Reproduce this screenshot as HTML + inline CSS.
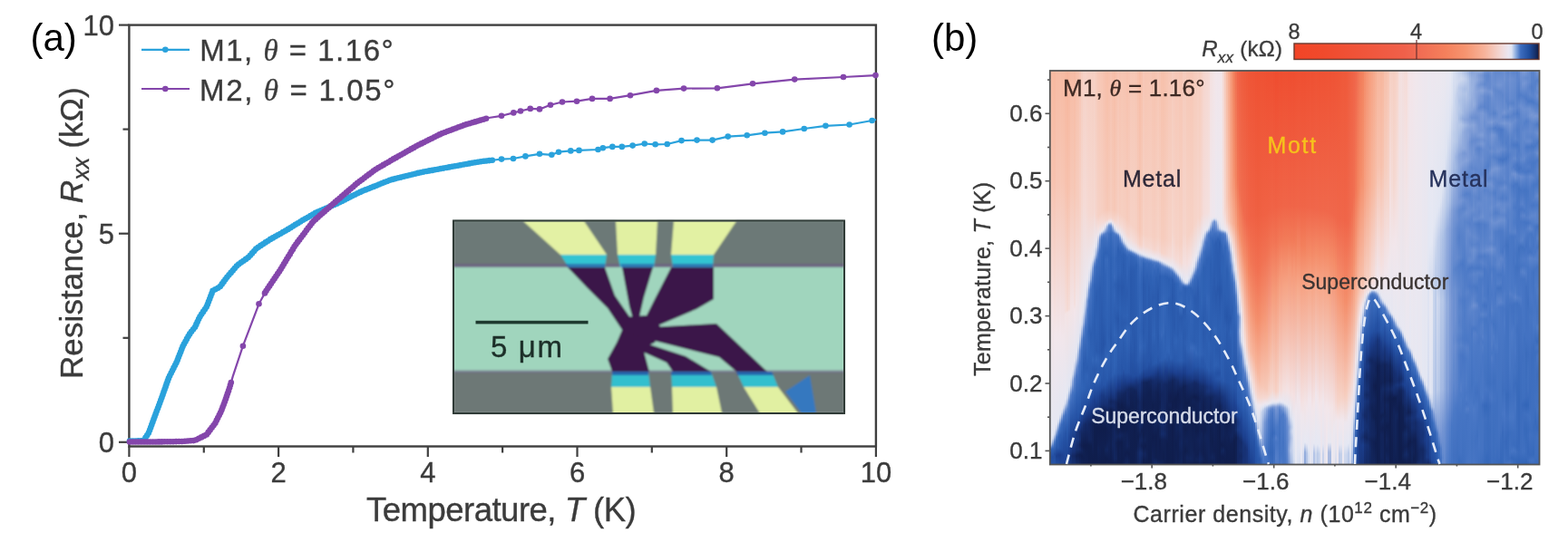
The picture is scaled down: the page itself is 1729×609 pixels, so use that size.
<!DOCTYPE html>
<html><head><meta charset="utf-8"><title>Figure</title>
<style>
html,body{margin:0;padding:0;background:#fff;}
#fig{position:relative;width:1729px;height:609px;overflow:hidden;background:#fff;}
#hm{position:absolute;left:1158px;top:78px;width:540px;height:435px;overflow:hidden;}
#hm i{position:absolute;top:0;width:2px;height:435px;display:block;}
svg{position:absolute;left:0;top:0;}
text{font-family:'Liberation Sans', Arial, Helvetica, sans-serif;}
</style></head><body>
<div id="fig">
<div id="hm">
<i style="left:0px;background:linear-gradient(#f7baa3 0,#f7c4b2 118px,#f1e6eb 296px,#e5e8f3 407px,#d5ddf0 410px,#a4b9e2 413px,#4c78c5 416px,#2e60b2 418px,#234ea1 426px,#2451a4 434px)"></i>
<i style="left:2px;background:linear-gradient(#f7b9a0 0,#f7c2af 121px,#f3e3e5 269px,#e5e8f3 402px,#d0daee 406px,#92acdc 410px,#4f7bc6 414px,#3062b5 417px,#234ea1 426px,#2654a7 434px)"></i>
<i style="left:4px;background:linear-gradient(#f7b8a0 0,#f7c2af 122px,#f4e1e1 268px,#f2e6eb 292px,#e5e7f3 396px,#cdd7ed 401px,#94addd 405px,#527dc7 409px,#3d6ebe 412px,#224c9e 423px,#2654a7 434px)"></i>
<i style="left:6px;background:linear-gradient(#f7bba4 0,#f7c6b5 123px,#f2e6eb 291px,#e5e7f3 390px,#c8d3ec 395px,#4c78c4 404px,#3365b7 408px,#2756a9 417px,#1c4090 425px,#224ea0 434px)"></i>
<i style="left:8px;background:linear-gradient(#f7bba4 0,#f7c6b5 123px,#f1e6eb 294px,#e5e7f2 384px,#cfd9ee 388px,#4f7bc6 398px,#3062b5 404px,#2958ab 416px,#1b3e8d 424px,#214b9d 434px)"></i>
<i style="left:10px;background:linear-gradient(#f7bca5 0,#f7c7b6 125px,#f2e6eb 290px,#e4e7f2 379px,#c9d4ec 383px,#90abdc 387px,#5d85cb 390px,#4070bf 394px,#2b5caf 403px,#2552a5 417px,#1b3e8c 424px,#1f4798 434px)"></i>
<i style="left:12px;background:linear-gradient(#f7bba4 0,#f7c6b4 123px,#f1e6eb 295px,#e6e7f2 373px,#d1daee 377px,#557fc9 386px,#396abc 390px,#2655a8 409px,#234fa1 418px,#1d4191 424px,#1f4697 434px)"></i>
<i style="left:14px;background:linear-gradient(#f7bba3 0,#f7c5b3 122px,#f1e6eb 295px,#e5e7f3 368px,#ccd7ed 372px,#8aa6da 377px,#507cc7 381px,#3567b9 388px,#2552a5 407px,#214a9c 419px,#1e4394 425px,#1e4495 434px)"></i>
<i style="left:16px;background:linear-gradient(#f7b8a0 0,#f7c2af 126px,#f4dedb 265px,#f3e4e6 269px,#e6e8f3 362px,#cfd8ee 367px,#9cb3e0 371px,#5c84cb 376px,#4271c1 380px,#2654a7 400px,#20499a 420px,#1e4495 434px)"></i>
<i style="left:18px;background:linear-gradient(#f7b69d 0,#f7c1ad 134px,#f5dad4 264px,#f4e3e4 267px,#e4e7f2 355px,#cbd6ed 361px,#5580c9 373px,#3f6fbf 380px,#2c5eb1 393px,#2451a3 409px,#1f4798 421px,#1e4394 434px)"></i>
<i style="left:20px;background:linear-gradient(#f7b8a0 0,#f7c2af 129px,#f4ddd9 263px,#f3e4e6 266px,#e3e6f2 348px,#ccd7ed 353px,#5982ca 365px,#3869bb 377px,#214a9b 404px,#1d4292 420px,#1b3d89 425px,#1b3c89 434px)"></i>
<i style="left:22px;background:linear-gradient(#f7bca5 0,#f7c7b6 128px,#f3e4e6 263px,#e3e6f2 338px,#c0ceea 347px,#7898d4 354px,#517cc7 358px,#3c6cbd 366px,#2451a4 388px,#1b3d8a 411px,#193881 420px,#163071 425px,#173377 434px)"></i>
<i style="left:24px;background:linear-gradient(#f7bca6 0,#f6c8b7 130px,#f3e4e7 261px,#e4e6f2 329px,#ced8ed 335px,#94addd 342px,#7a9ad5 347px,#4674c3 355px,#2b5bae 378px,#193881 411px,#173377 420px,#142964 425px,#163071 434px)"></i>
<i style="left:26px;background:linear-gradient(#f7bba4 0,#f7c6b4 129px,#f4e0df 258px,#f3e6ea 264px,#e4e6f2 320px,#b9c9e8 329px,#5f86cc 340px,#3a6bbc 358px,#2552a5 385px,#18367e 412px,#173174 420px,#132760 425px,#163071 434px)"></i>
<i style="left:28px;background:linear-gradient(#f7bfaa 0,#f6cbbc 137px,#f2e5e8 256px,#e3e6f2 310px,#ccd6ed 317px,#a6bae2 322px,#6b8fd0 329px,#4674c3 337px,#2f61b4 361px,#2450a3 384px,#1b3e8d 394px,#19377e 400px,#18357a 408px,#162f70 414px,#152d6b 419px,#102154 425px,#142a66 434px)"></i>
<i style="left:30px;background:linear-gradient(#f7c2ad 0,#f6cdc0 146px,#f3e3e5 247px,#e3e6f2 299px,#cdd7ed 305px,#517dc8 326px,#3c6cbd 342px,#2c5db0 365px,#2553a6 382px,#1b3c88 394px,#173377 399px,#18357b 407px,#142b68 413px,#152e6d 418px,#102052 424px,#132862 434px)"></i>
<i style="left:32px;background:linear-gradient(#f7c6b5 0,#f6d2c7 154px,#ebe8f0 274px,#dee2f1 289px,#bbcae8 297px,#809fd7 305px,#6289cd 309px,#4372c2 322px,#3668ba 344px,#3164b6 352px,#2655a8 376px,#1a3b87 392px,#152d6d 398px,#152e6e 407px,#12255c 413px,#142a66 418px,#0f1e4e 424px,#12245b 434px)"></i>
<i style="left:34px;background:linear-gradient(#f6cdbf 0,#f5d7cf 146px,#e9e8f1 268px,#d7def0 280px,#90aadc 291px,#6088cc 297px,#3e6ebe 309px,#3062b5 333px,#3164b7 350px,#224d9f 376px,#1b3d8a 386px,#173275 392px,#132861 400px,#112256 409px,#101f51 414px,#12245b 419px,#0f1d4c 425px,#102154 432px,#102052 434px)"></i>
<i style="left:36px;background:linear-gradient(#f6d1c6 0,#f5dad5 144px,#e9e8f1 253px,#d8dff0 266px,#a0b6e1 278px,#668ccf 285px,#3e6fbf 295px,#2b5caf 324px,#2d5fb2 338px,#2f62b5 350px,#214b9d 374px,#19377e 386px,#152c6a 391px,#0f1d4c 414px,#102153 420px,#0f1e4f 427px,#102051 432px,#0f1e4e 434px)"></i>
<i style="left:38px;background:linear-gradient(#f6d2c7 0,#f5dbd6 150px,#eae8f1 238px,#dfe3f1 249px,#b5c6e7 260px,#668bcf 274px,#4373c2 283px,#2d5eb1 318px,#2c5db0 329px,#2f62b5 337px,#2d5fb2 351px,#2655a8 362px,#204899 373px,#173276 386px,#142964 390px,#12265f 397px,#0f1d4c 414px,#101f4f 421px,#101f50 427px,#101f50 432px,#0f1d4c 434px)"></i>
<i style="left:40px;background:linear-gradient(#f6d0c4 0,#f5d9d3 155px,#ebe8f0 228px,#dce1f0 238px,#a5bae2 249px,#7899d4 254px,#6c8fd0 259px,#507cc7 264px,#3467b9 290px,#3668ba 300px,#3265b7 313px,#2b5caf 328px,#3163b6 337px,#2858ab 360px,#1c3f8e 376px,#152c6b 387px,#132964 392px,#112155 408px,#0f1d4d 413px,#0f1e4e 421px,#101f50 431px,#0f1d4c 434px)"></i>
<i style="left:42px;background:linear-gradient(#f6cfc3 0,#f5d8d1 158px,#ebe8f0 218px,#d3dbef 231px,#7395d3 242px,#547fc8 250px,#4372c1 254px,#2e60b3 287px,#3164b6 301px,#2e60b3 320px,#2d5eb1 329px,#2d5fb2 346px,#2756a9 359px,#1b3d8a 375px,#13265f 390px,#132760 396px,#12255d 402px,#12255c 407px,#0f1e4d 413px,#0f1d4c 434px)"></i>
<i style="left:44px;background:linear-gradient(#f6d0c3 0,#f5d8d1 158px,#eae8f1 211px,#d4dcef 218px,#91abdc 230px,#5e86cc 235px,#4372c1 241px,#3264b7 281px,#2c5db0 290px,#2f62b5 314px,#2e60b3 321px,#2c5db0 331px,#2755a8 357px,#1f4698 365px,#1b3c89 373px,#112359 389px,#112359 397px,#12245a 402px,#12245b 407px,#0f1e4d 414px,#0f1d4c 434px)"></i>
<i style="left:46px;background:linear-gradient(#f6cfc2 0,#f5d7d0 158px,#eae8f1 204px,#dde1f0 209px,#afc2e5 214px,#88a4d9 218px,#527dc7 228px,#3b6cbd 237px,#3063b6 271px,#2d5eb1 286px,#2e61b4 314px,#3366b8 319px,#2a5bae 329px,#2a5bae 343px,#2450a3 357px,#1e4394 364px,#1b3c89 372px,#132760 382px,#102154 391px,#112255 408px,#0f1d4c 428px,#0f1d4c 434px)"></i>
<i style="left:48px;background:linear-gradient(#f6d0c3 0,#f5d8d1 155px,#ebe8f0 194px,#d6ddef 203px,#b4c5e6 207px,#6188cd 213px,#4675c3 217px,#3163b6 237px,#2c5eb1 271px,#2b5caf 287px,#2c5eb1 314px,#3062b5 320px,#2958ab 331px,#2a5aad 342px,#224c9e 356px,#1b3e8c 364px,#1a3a85 371px,#112257 381px,#0f1e4d 393px,#0f1d4c 434px)"></i>
<i style="left:50px;background:linear-gradient(#f6ccbd 0,#f6d4cb 160px,#ebe7ef 186px,#d6ddef 194px,#8ea9db 203px,#4c79c5 209px,#396abc 216px,#2c5db0 249px,#2e60b3 281px,#2a5aad 309px,#3366b8 319px,#2a5aad 329px,#2d5eb1 341px,#224c9e 355px,#1b3e8d 366px,#18357b 373px,#12245a 380px,#0f1d4d 394px,#0f1d4c 434px)"></i>
<i style="left:52px;background:linear-gradient(#f6c8b7 0,#f6d1c5 160px,#f4e0df 174px,#e9e6ef 181px,#84a2d8 195px,#507bc6 202px,#396bbc 210px,#2d5fb2 243px,#2d5fb2 261px,#2d5fb2 272px,#2c5db0 294px,#2a5bae 310px,#3163b6 320px,#2b5caf 330px,#2f61b4 340px,#214b9d 354px,#19377e 371px,#12245a 381px,#0f1d4c 394px,#101f50 412px,#102154 417px,#0f1d4c 434px)"></i>
<i style="left:54px;background:linear-gradient(#f7c7b5 0,#f6d0c4 158px,#f4ddd9 170px,#ebe7ef 178px,#d0d9ed 180px,#8da8db 183px,#688dcf 186px,#3c6dbd 199px,#2c5db0 241px,#2c5db0 261px,#2959ac 296px,#2958ab 310px,#2d5fb2 320px,#2a5aad 332px,#2d5eb1 340px,#224d9f 352px,#1b3e8c 359px,#18357b 369px,#112257 382px,#0f1d4c 395px,#101f50 413px,#102052 418px,#0f1d4c 434px)"></i>
<i style="left:56px;background:linear-gradient(#f7c6b4 0,#f6cfc2 156px,#f5dad5 167px,#ebe7ef 176px,#e5e6f1 177px,#d4dcef 178px,#7294d3 181px,#4d7ac6 183px,#3c6dbd 187px,#3265b7 206px,#2b5bae 262px,#2756a9 298px,#2655a8 309px,#2b5caf 319px,#2a5bae 335px,#2450a3 349px,#1a3a84 358px,#173275 368px,#12265e 374px,#0f1d4c 394px,#101f51 414px,#0f1d4c 434px)"></i>
<i style="left:58px;background:linear-gradient(#f7c3b0 0,#f6cdbf 155px,#f5d9d3 166px,#eae7f0 174px,#d7deef 176px,#a7bbe3 178px,#678ccf 180px,#517dc8 181px,#3d6ebe 184px,#2f62b5 202px,#2e60b3 225px,#2c5eb1 270px,#2654a7 302px,#2c5db0 318px,#2755a8 346px,#193881 359px,#163072 368px,#112359 374px,#112155 386px,#0f1d4c 395px,#102051 414px,#101f4f 420px,#0f1d4c 434px)"></i>
<i style="left:60px;background:linear-gradient(#f7c0ac 0,#f6cabb 154px,#f5d7cf 165px,#eee6ec 170px,#d2d9ed 173px,#8da8db 177px,#507cc8 180px,#3e6ebe 185px,#2f61b4 201px,#3668ba 209px,#3466b8 218px,#3062b5 225px,#2e60b3 269px,#2959ac 301px,#2f61b4 312px,#2f61b4 318px,#2655a8 346px,#18357a 363px,#162f70 369px,#12245a 374px,#12255c 384px,#0f1d4c 394px,#101f50 412px,#112459 418px,#0f1d4c 427px,#0f1d4c 434px)"></i>
<i style="left:62px;background:linear-gradient(#f7bfa9 0,#f6c8b7 153px,#f6d5cc 164px,#ece5ec 168px,#c9d3eb 170px,#98b0de 172px,#4c79c6 179px,#3a6bbc 190px,#2f62b5 201px,#386abb 209px,#3567b9 218px,#3466b8 240px,#2f62b5 268px,#2e60b3 290px,#2e60b3 310px,#3567b9 317px,#2d5eb1 324px,#2a5bae 339px,#224c9e 348px,#193881 360px,#173275 366px,#152d6d 370px,#112358 376px,#12265d 384px,#101e4f 396px,#101f51 408px,#12255c 418px,#0f1d4c 428px,#101f50 434px)"></i>
<i style="left:64px;background:linear-gradient(#f7c0ac 0,#f6caba 153px,#f6d6cd 163px,#f0e5e9 166px,#e7e5ef 167px,#ced7ec 168px,#84a1d8 170px,#6b8fd0 171px,#5b84cb 173px,#547fc9 176px,#3f6fbf 180px,#3668ba 190px,#3062b5 203px,#3264b7 212px,#3164b6 240px,#2e60b3 272px,#2c5db0 292px,#3063b5 313px,#2d5eb1 325px,#2755a8 340px,#19377e 359px,#142b69 365px,#142b69 370px,#101f50 376px,#112357 384px,#101f50 400px,#112256 412px,#112154 421px,#0f1d4d 431px,#0f1e4e 434px)"></i>
<i style="left:66px;background:linear-gradient(#f7c3b0 0,#f6cdbf 154px,#f6d5cc 162px,#efe6ec 166px,#e5e5f0 167px,#a7bbe2 169px,#6c90d1 171px,#5881ca 173px,#386abb 180px,#3366b8 191px,#2e61b4 206px,#2e60b3 240px,#2c5db0 276px,#2858ab 294px,#2b5caf 319px,#2756a9 338px,#1a3c88 352px,#152e6e 361px,#12265e 365px,#132862 370px,#0f1d4d 375px,#102052 412px,#0f1d4c 434px)"></i>
<i style="left:68px;background:linear-gradient(#f7c0ab 0,#f6caba 154px,#f6d3c9 163px,#ede5ec 168px,#d2d9ec 170px,#96afde 173px,#4373c2 179px,#396abb 191px,#3265b7 207px,#3366b8 223px,#3164b7 230px,#3062b5 239px,#3063b6 247px,#2d5fb2 275px,#2d5fb2 292px,#2c5db0 300px,#2d5fb2 319px,#2c5db0 336px,#1a3a84 356px,#173276 361px,#132863 365px,#142a67 370px,#101f50 376px,#112256 385px,#112358 401px,#12255c 413px,#102053 429px,#0f1d4c 434px)"></i>
<i style="left:70px;background:linear-gradient(#f7bea8 0,#f6c8b7 154px,#f6d5cb 165px,#ece6ed 171px,#d1d9ed 174px,#99b1df 177px,#6088cd 179px,#4d7ac6 180px,#4271c1 183px,#3567b9 208px,#3567b9 222px,#3869bb 228px,#2e60b3 236px,#3365b8 247px,#2d5eb1 266px,#2c5eb1 274px,#3164b7 291px,#2d5fb2 299px,#3063b6 307px,#2f62b5 325px,#2d5fb2 333px,#234fa1 342px,#183479 361px,#142964 365px,#142965 371px,#112256 377px,#112256 387px,#13265f 401px,#12255c 412px,#12265e 428px,#0f1d4c 434px)"></i>
<i style="left:72px;background:linear-gradient(#f7c1ad 0,#f6cbbc 155px,#f5d7cf 166px,#ece7ef 174px,#dfe3f1 176px,#d0d9ee 177px,#b5c6e7 178px,#698ed0 180px,#4e7bc7 181px,#4070c0 183px,#3062b5 207px,#3365b8 222px,#3264b6 228px,#2c5db0 236px,#2e60b3 262px,#2959ac 273px,#2f61b4 292px,#2f62b5 301px,#2d5fb2 325px,#2959ac 335px,#1e4394 348px,#173377 356px,#152e6e 361px,#12255c 366px,#102052 395px,#12265d 404px,#102052 411px,#112257 420px,#12245a 428px,#0f1d4c 434px)"></i>
<i style="left:74px;background:linear-gradient(#f7c5b3 0,#f6cfc2 156px,#f5dbd7 168px,#e7e6f1 177px,#dae0f0 178px,#c0ceea 179px,#7496d3 181px,#5982ca 182px,#4271c0 184px,#2d5fb2 197px,#2f61b4 222px,#2959ac 237px,#2d5eb1 262px,#2756a9 274px,#2c5db0 293px,#2b5caf 308px,#2857aa 333px,#1b3e8d 346px,#19377f 351px,#142b68 356px,#12255c 362px,#101e4f 368px,#101f4f 398px,#12245a 403px,#0f1d4c 410px,#0f1e4e 429px,#0f1d4c 434px)"></i>
<i style="left:76px;background:linear-gradient(#f7c3b0 0,#f6cdbf 157px,#f5d8d1 169px,#ede7ee 178px,#d8deef 180px,#7d9dd6 184px,#5680c9 187px,#3c6cbd 191px,#2e60b3 200px,#3062b5 222px,#2a5aad 237px,#2e61b4 263px,#2b5caf 279px,#2e5fb2 293px,#2c5db0 309px,#2756a9 334px,#1b3e8d 346px,#19377f 351px,#142b67 356px,#112358 363px,#0f1e4e 371px,#101e4f 384px,#101f51 397px,#12265f 403px,#0f1d4c 410px,#101f50 418px,#0f1e4e 430px,#0f1d4c 434px)"></i>
<i style="left:78px;background:linear-gradient(#f7c5b2 0,#f6cfc1 159px,#f5dbd6 172px,#eae7f0 181px,#ccd6ed 184px,#88a4d9 188px,#4d7ac6 191px,#3567b9 195px,#2e60b3 204px,#2d5fb2 221px,#2958ab 240px,#2d5fb2 266px,#2a5aad 279px,#2d5fb2 292px,#2d5fb2 301px,#2553a6 334px,#173275 351px,#132760 357px,#0f1d4c 369px,#0f1d4c 386px,#0f1e4e 397px,#12245b 402px,#0f1d4c 410px,#0f1e4d 418px,#0f1d4d 434px)"></i>
<i style="left:80px;background:linear-gradient(#f7c4b1 0,#f6cec0 160px,#f5d9d4 174px,#ebe7ef 184px,#cfd9ee 188px,#a9bde3 190px,#5d85cb 193px,#3c6dbd 196px,#2e60b3 202px,#2b5caf 214px,#2c5db0 228px,#2959ac 238px,#2e60b3 271px,#2a5aad 278px,#2e61b4 291px,#2b5caf 299px,#2857aa 329px,#1d4292 341px,#12255d 357px,#0f1d4c 373px,#0f1e4e 384px,#0f1e4e 397px,#112357 402px,#102052 411px,#0f1e4e 429px,#112155 434px)"></i>
<i style="left:82px;background:linear-gradient(#f7c3b0 0,#f6cdbf 162px,#f5d9d3 177px,#e9e8f1 188px,#d0d9ee 191px,#5983ca 196px,#4070bf 198px,#2f61b4 204px,#2c5db0 229px,#2b5bae 248px,#2e60b3 271px,#2b5bae 278px,#3063b6 290px,#2d5fb2 300px,#2655a8 333px,#1b3e8b 343px,#12265e 355px,#102154 367px,#0f1e4e 374px,#0f1e4e 385px,#101f4f 397px,#112255 402px,#102154 415px,#0f1d4d 423px,#12245a 434px)"></i>
<i style="left:84px;background:linear-gradient(#f7c1ad 0,#f6cbbc 164px,#f5d8d1 180px,#e8e8f1 191px,#dae0f1 193px,#b6c7e7 195px,#6087cc 198px,#4171c0 200px,#3164b7 206px,#3163b6 224px,#2b5bae 245px,#2f62b5 270px,#2c5eb1 278px,#3567b9 288px,#2d5fb2 309px,#2756a9 333px,#1c408f 343px,#142965 352px,#132760 361px,#12255c 367px,#101f50 374px,#101f51 385px,#0f1e4f 396px,#112256 402px,#12245a 414px,#0f1d4c 421px,#12265d 434px)"></i>
<i style="left:86px;background:linear-gradient(#f7c3b0 0,#f6cdc0 166px,#f5d9d3 182px,#e9e8f2 193px,#dee3f2 195px,#cfd8ee 196px,#b3c5e6 197px,#668ccf 199px,#4b78c5 200px,#3668ba 203px,#2d5fb2 223px,#2d5eb1 230px,#2d5eb1 260px,#2c5db0 279px,#3365b8 287px,#2654a7 333px,#1c3f8e 343px,#132862 351px,#12245b 360px,#12255c 367px,#0f1e4e 375px,#102052 405px,#112255 414px,#0f1d4c 423px,#112256 434px)"></i>
<i style="left:88px;background:linear-gradient(#f7c7b6 0,#f6d1c5 169px,#f4ddda 185px,#e8e8f2 195px,#e3e6f2 196px,#d3dcef 197px,#b5c6e7 198px,#5f87cc 200px,#4674c2 201px,#3264b7 204px,#2a5aad 222px,#2959ac 231px,#2858ab 279px,#2d5fb2 288px,#2553a6 319px,#234ea0 335px,#1b3c89 343px,#12255b 351px,#112154 359px,#101f51 369px,#0f1e4d 434px)"></i>
<i style="left:90px;background:linear-gradient(#f7c7b5 0,#f6d1c5 171px,#f4ddd9 187px,#e9e8f1 196px,#e4e6f2 197px,#d4dcef 198px,#b5c6e7 199px,#6188cd 201px,#4775c3 202px,#3365b8 205px,#2b5bae 222px,#2959ac 280px,#2a5aad 304px,#224d9e 337px,#1b3d8a 343px,#12265d 351px,#112256 357px,#101f50 370px,#0f1e4e 434px)"></i>
<i style="left:92px;background:linear-gradient(#f7c7b5 0,#f6d1c5 173px,#f5dbd7 188px,#eae8f1 197px,#e4e6f2 198px,#d4dcef 199px,#b5c6e7 200px,#6289cd 202px,#4876c4 203px,#3466b8 206px,#2b5caf 221px,#2a5aad 283px,#2553a6 324px,#224c9e 337px,#1a3b86 343px,#112358 353px,#102154 366px,#0f1d4c 387px,#101f4f 434px)"></i>
<i style="left:94px;background:linear-gradient(#f7c5b3 0,#f6d0c3 175px,#f5d9d3 189px,#ebe8f0 198px,#e5e6f2 199px,#d5dcef 200px,#b7c7e7 201px,#668bce 203px,#4b78c5 204px,#3a6bbc 206px,#2d5fb2 214px,#2a5bae 286px,#2857aa 319px,#224d9f 336px,#193780 343px,#12245a 354px,#102052 365px,#102052 371px,#0f1e4e 415px,#112154 422px,#102154 430px,#102154 434px)"></i>
<i style="left:96px;background:linear-gradient(#f7c1ac 0,#f6cbbd 176px,#f6d6cd 191px,#ece7ef 199px,#d7def0 201px,#bccbe9 202px,#7093d2 204px,#557fc9 205px,#4171c0 207px,#3466b8 215px,#2e60b3 263px,#2f61b4 288px,#2c5db0 319px,#234ea0 336px,#163173 347px,#132964 357px,#112358 365px,#12245b 371px,#0f1d4d 384px,#12245a 390px,#0f1e4e 404px,#112358 416px,#132862 422px,#12265d 432px,#12265e 434px)"></i>
<i style="left:98px;background:linear-gradient(#f7bda7 0,#f6c8b7 177px,#f6d2c7 192px,#ede7ef 200px,#d8dff0 202px,#9cb4e0 204px,#5f86cc 206px,#4776c4 208px,#3b6cbd 217px,#3466b9 236px,#3265b7 248px,#3567b9 264px,#3466b8 272px,#2f61b4 286px,#3567b9 306px,#2655a8 333px,#1b3e8b 341px,#173479 346px,#132760 366px,#132761 372px,#112359 379px,#101f51 383px,#142b68 389px,#102154 402px,#13265f 408px,#12245a 414px,#152e6d 422px,#132963 432px,#142964 434px)"></i>
<i style="left:100px;background:linear-gradient(#f7c1ac 0,#f6ccbd 179px,#f6d5cc 193px,#ebe8f0 201px,#d5ddef 203px,#93acdd 205px,#6d91d1 206px,#527ec8 207px,#4171c0 209px,#3365b7 223px,#2f61b4 236px,#3264b7 265px,#2e60b3 275px,#2d5fb2 287px,#3264b7 305px,#2553a5 331px,#1c3f8c 339px,#152e6e 344px,#12255b 362px,#12245a 367px,#112358 378px,#0f1e4e 383px,#132964 389px,#101f50 397px,#12265d 408px,#102052 414px,#142b68 422px,#122459 432px,#12245a 434px)"></i>
<i style="left:102px;background:linear-gradient(#f7c7b6 0,#f6d2c6 180px,#f5dcd8 194px,#eae8f1 202px,#e2e5f2 203px,#ced8ed 204px,#abbfe4 205px,#5881ca 207px,#4372c1 208px,#3265b7 212px,#2959ac 236px,#2b5bae 272px,#2959ac 289px,#2d5fb2 304px,#234ea0 329px,#1a3a84 338px,#12255c 344px,#0f1e4e 367px,#102051 386px,#102053 390px,#0f1e4d 402px,#102154 408px,#0f1d4d 416px,#12245a 423px,#0f1d4d 431px,#0f1d4d 434px)"></i>
<i style="left:104px;background:linear-gradient(#f7c5b3 0,#f6d0c4 181px,#f5d9d2 194px,#e9e8f1 203px,#dfe4f1 204px,#c8d4ec 205px,#5580c9 208px,#4473c2 209px,#3567b9 213px,#2b5bae 237px,#2b5bae 272px,#2c5db0 296px,#2d5fb2 304px,#2451a3 328px,#1b3e8d 337px,#12255b 344px,#102154 358px,#101f50 367px,#102051 385px,#101f50 390px,#101f51 401px,#112256 408px,#0f1d4c 414px,#12245b 423px,#0f1d4c 434px)"></i>
<i style="left:106px;background:linear-gradient(#f7c6b3 0,#f6d0c4 181px,#f5d8d0 194px,#ece8ef 203px,#d9e0f0 205px,#bdcce9 206px,#6b8fd0 208px,#4d7ac6 209px,#3b6cbd 211px,#2d5fb2 227px,#2c5db0 296px,#2654a7 326px,#1b3e8b 337px,#112459 344px,#102052 358px,#101f50 376px,#102051 403px,#101f50 417px,#102153 425px,#0f1d4c 434px)"></i>
<i style="left:108px;background:linear-gradient(#f7c6b4 0,#f6d1c5 182px,#f5d9d2 195px,#ebe8f0 204px,#e4e6f2 205px,#d0d9ee 206px,#5c85cb 209px,#4775c3 210px,#3668ba 213px,#2b5bae 240px,#2a5aad 270px,#2756a9 320px,#224c9e 328px,#1c3f8e 336px,#12255c 343px,#102051 355px,#0f1e4f 417px,#0f1d4c 434px)"></i>
<i style="left:110px;background:linear-gradient(#f7c6b5 0,#f6d1c5 182px,#f5d9d3 196px,#ede7ee 204px,#dee3f1 206px,#c3d0eb 207px,#7193d2 209px,#517dc8 210px,#3b6cbd 212px,#2e61b4 227px,#2c5db0 252px,#2958ab 310px,#2350a2 326px,#1c408f 335px,#132761 342px,#102052 353px,#101f51 360px,#0f1e4d 434px)"></i>
<i style="left:112px;background:linear-gradient(#f7c4b1 0,#f6cfc2 183px,#f5d7d0 197px,#ede7ef 205px,#e7e7f1 206px,#d7deef 207px,#b8c8e8 208px,#678ccf 210px,#4d7ac6 211px,#3b6cbd 214px,#3063b6 230px,#2b5bae 250px,#2f61b4 292px,#2b5caf 305px,#2756a9 324px,#1b3f8d 335px,#142b68 342px,#12245a 354px,#112256 360px,#0f1e4e 369px,#101e4f 382px,#112155 387px,#0f1d4d 405px,#112257 430px,#122459 434px)"></i>
<i style="left:114px;background:linear-gradient(#f7c3b0 0,#f6cec1 183px,#f6d5cc 197px,#ece8ef 206px,#e4e5f1 207px,#cdd7ed 208px,#5a83cb 211px,#4775c4 212px,#3365b8 221px,#2b5caf 250px,#3063b6 292px,#2b5caf 303px,#2959ac 323px,#1c3f8d 334px,#152c6b 342px,#12245a 354px,#112257 360px,#101f50 368px,#101f51 376px,#0f1e4e 381px,#12255b 386px,#0f1e4e 404px,#102053 427px,#142a65 434px)"></i>
<i style="left:116px;background:linear-gradient(#f7c5b2 0,#f6d0c3 184px,#f5d7d0 198px,#eee7ee 206px,#dee2f1 208px,#becde9 209px,#688dcf 211px,#4c79c6 212px,#3b6cbd 215px,#2d5fb2 229px,#2b5bae 250px,#2c5db0 296px,#295aad 322px,#1b3d8b 333px,#152e6e 340px,#112256 354px,#101f4f 369px,#101f4f 376px,#101f50 381px,#12265d 385px,#0f1d4d 404px,#101f4f 427px,#142b68 434px)"></i>
<i style="left:118px;background:linear-gradient(#f7c7b6 0,#f6d2c6 184px,#f5dad5 199px,#ede7ef 207px,#e6e6f1 208px,#d2daee 209px,#5881ca 212px,#4574c2 213px,#3265b7 219px,#2857aa 247px,#2b5caf 283px,#2959ac 297px,#2b5bae 313px,#2553a6 323px,#18367d 334px,#12255c 346px,#101f51 357px,#0f1e4d 380px,#12255c 385px,#101f50 396px,#101f50 429px,#132760 434px)"></i>
<i style="left:120px;background:linear-gradient(#f7c5b2 0,#f6d0c3 184px,#f5d7cf 199px,#ece7ef 208px,#e4e5f1 209px,#ccd6ed 210px,#5f86cc 213px,#4372c1 215px,#2c5db0 227px,#2d5eb1 248px,#3163b6 289px,#2c5eb1 302px,#2a5aad 320px,#1c4191 330px,#12265e 346px,#101f51 366px,#112155 375px,#102051 379px,#142a66 384px,#112357 394px,#12245a 401px,#0f1d4d 408px,#101f50 429px,#12255c 434px)"></i>
<i style="left:122px;background:linear-gradient(#f7c1ac 0,#f6ccbd 185px,#f6d4ca 201px,#ede7ef 209px,#e4e5f1 210px,#afc1e5 212px,#7092d2 214px,#4c79c6 216px,#2f62b5 227px,#3062b5 246px,#3265b7 253px,#3265b7 282px,#3768ba 292px,#2e60b3 299px,#2c5eb1 319px,#1a3c88 335px,#152d6b 343px,#12255d 357px,#13275f 372px,#12255c 379px,#162f70 384px,#132761 394px,#142b68 401px,#102154 407px,#101f50 418px,#101f50 428px,#12245b 434px)"></i>
<i style="left:124px;background:linear-gradient(#f7c1ac 0,#f6ccbd 185px,#f6d5cb 202px,#ece7ef 210px,#e4e5f1 211px,#b5c6e7 213px,#7495d3 215px,#4c79c6 217px,#2f62b5 227px,#3264b7 245px,#3567b9 252px,#3466b9 267px,#3466b8 276px,#3769ba 288px,#3265b7 293px,#2d5fb2 318px,#173377 341px,#142965 346px,#12265e 357px,#12265e 366px,#132861 380px,#152d6d 385px,#132761 395px,#142b69 401px,#112155 407px,#0f1e4d 427px,#112255 434px)"></i>
<i style="left:126px;background:linear-gradient(#f7c3af 0,#f6cdc0 186px,#f6d5cc 202px,#ece7ef 211px,#e4e6f1 212px,#b5c6e7 214px,#7193d2 216px,#5781ca 217px,#4473c2 219px,#2e60b3 227px,#3265b7 251px,#3164b7 267px,#3163b6 275px,#2e60b3 294px,#2f61b4 316px,#1b3d8b 332px,#183479 340px,#132862 346px,#12245a 378px,#132761 387px,#12255c 396px,#132862 401px,#102052 408px,#101f50 434px)"></i>
<i style="left:128px;background:linear-gradient(#f7c5b2 0,#f6d0c3 187px,#f5d8d1 203px,#ebe8f0 212px,#e4e6f1 213px,#d1daee 214px,#6d91d1 217px,#547fc9 218px,#4271c1 220px,#2d5fb2 228px,#3164b6 249px,#2d5fb2 258px,#2f61b4 274px,#3063b6 309px,#2a5bae 319px,#1c3f8e 331px,#19377f 336px,#12265e 347px,#112256 365px,#102053 371px,#112155 392px,#112257 402px,#0f1d4d 412px,#0f1d4d 434px)"></i>
<i style="left:130px;background:linear-gradient(#f7c7b6 0,#f6d2c7 188px,#f5dbd5 204px,#ebe8f0 213px,#e4e6f1 214px,#d1daee 215px,#6c90d1 218px,#537ec8 219px,#4070c0 221px,#2c5eb1 230px,#2f62b5 248px,#2a5aad 256px,#2d5fb2 274px,#3164b7 310px,#224ea0 326px,#12265e 344px,#101f51 360px,#101f51 365px,#112255 369px,#0f1e4e 374px,#101f50 392px,#0f1d4c 434px)"></i>
<i style="left:132px;background:linear-gradient(#f6c8b7 0,#f6d2c7 187px,#f5dbd7 205px,#ece8ef 214px,#e5e6f1 215px,#d4dcef 216px,#7395d3 219px,#4a78c5 221px,#2f61b4 229px,#2d5fb2 236px,#2d5eb1 249px,#2a5bae 257px,#2c5eb1 281px,#2d5fb2 317px,#1c3f8e 332px,#12265e 343px,#101e4f 360px,#101f4f 365px,#112155 369px,#0f1e4d 375px,#101f50 392px,#0f1e4d 434px)"></i>
<i style="left:134px;background:linear-gradient(#f6cbbc 0,#f6d5cb 176px,#f4dedb 205px,#ece8f0 215px,#d8dff0 217px,#6289cd 221px,#4272c1 223px,#2b5caf 231px,#2858ab 250px,#2b5caf 292px,#2b5caf 317px,#1b3e8d 332px,#122459 342px,#0f1d4d 366px,#0f1d4d 434px)"></i>
<i style="left:136px;background:linear-gradient(#f6c9b9 0,#f6d3c9 182px,#f5dbd7 206px,#ebe7f0 217px,#d5dcef 219px,#547fc8 224px,#3f6fbf 226px,#2c5db0 235px,#2959ac 282px,#2f61b4 299px,#2858ab 320px,#1c408f 333px,#132862 341px,#0f1d4c 363px,#102052 385px,#101f4f 431px,#112154 434px)"></i>
<i style="left:138px;background:linear-gradient(#f7c7b6 0,#f6d2c7 190px,#f5dad5 208px,#ebe8f0 219px,#d9dff0 221px,#afc1e5 223px,#5c84cb 226px,#4372c1 228px,#2f62b5 235px,#2c5db0 266px,#2c5eb1 291px,#3063b6 298px,#2958ab 321px,#1c3f8f 334px,#152c6a 341px,#0f1d4c 361px,#0f1d4d 372px,#102052 382px,#112359 393px,#0f1e4f 413px,#112154 431px,#112358 434px)"></i>
<i style="left:140px;background:linear-gradient(#f6c8b7 0,#f6d3c8 190px,#f5dcd8 210px,#ebe8f0 221px,#dde2f1 223px,#b8c8e8 225px,#6389cd 228px,#4674c3 230px,#3366b8 235px,#3063b6 256px,#2b5bae 267px,#2b5caf 291px,#2e60b3 298px,#2a5bae 320px,#1b3e8c 334px,#142a65 343px,#0f1d4d 357px,#102051 380px,#112358 395px,#102052 404px,#101f50 426px,#112155 434px)"></i>
<i style="left:142px;background:linear-gradient(#f7c6b4 0,#f6d1c5 191px,#f5d9d4 211px,#ebe8f0 223px,#d6def0 226px,#95aedd 229px,#547fc8 232px,#3d6ebe 235px,#3063b6 245px,#3668b9 263px,#2a5aad 272px,#2e60b3 292px,#2c5db0 320px,#1b3c89 335px,#112256 351px,#101e4f 364px,#13275f 393px,#112257 403px,#12245b 412px,#102154 423px,#112257 434px)"></i>
<i style="left:144px;background:linear-gradient(#f7c6b5 0,#f6d1c5 189px,#f5dad4 212px,#e9e8f1 225px,#dfe4f2 228px,#c4d1eb 230px,#517cc7 235px,#396abc 238px,#3163b6 245px,#3769ba 262px,#2a5aad 272px,#2c5db0 286px,#2f61b4 293px,#2c5db0 320px,#1b3d8a 335px,#112256 351px,#102052 365px,#12245b 379px,#12265e 388px,#12245a 404px,#12265e 411px,#112256 422px,#112459 430px,#112255 434px)"></i>
<i style="left:146px;background:linear-gradient(#f6cbbc 0,#f6d4cb 179px,#f4e0df 213px,#e4e7f3 230px,#d2dbef 232px,#a2b8e1 234px,#5982ca 236px,#4271c0 237px,#3062b5 239px,#3062b5 254px,#2a5aad 266px,#2c5db0 279px,#2a5bae 292px,#2b5caf 301px,#2858ab 320px,#1e4494 329px,#1a3c88 334px,#102051 349px,#101f50 378px,#112358 387px,#101f50 394px,#112155 405px,#102154 411px,#101f50 422px,#101f51 429px,#0f1e4d 434px)"></i>
<i style="left:148px;background:linear-gradient(#f6cbbc 0,#f6d5cb 179px,#f4e1e1 214px,#e6e8f3 232px,#e1e5f2 233px,#cfd9ee 234px,#adc0e5 235px,#517cc7 237px,#3a6bbc 238px,#2d5fb2 240px,#2f61b4 254px,#2b5bae 265px,#2c5eb1 278px,#2b5bae 292px,#2d5eb1 301px,#2654a7 321px,#1f4697 328px,#1b3e8b 334px,#112256 348px,#0f1d4c 367px,#112256 382px,#112154 388px,#0f1d4c 395px,#112255 409px,#0f1d4c 420px,#112154 427px,#0f1e4d 434px)"></i>
<i style="left:150px;background:linear-gradient(#f6c8b7 0,#f6d2c7 184px,#f4dfde 213px,#e7e9f3 230px,#dfe4f2 233px,#d0daee 234px,#b2c4e6 235px,#5982ca 237px,#3f6fbf 238px,#2f61b4 240px,#3164b7 254px,#3264b7 261px,#2d5fb2 275px,#2c5eb1 288px,#3062b5 307px,#2654a7 322px,#1d4293 334px,#13265f 348px,#0f1d4c 367px,#112358 388px,#0f1e4e 395px,#112257 409px,#101f4f 420px,#12245b 427px,#102052 434px)"></i>
<i style="left:152px;background:linear-gradient(#f6c8b7 0,#f6d2c6 181px,#f4e1e1 212px,#e2e5f2 229px,#c5d2eb 232px,#9bb2df 234px,#4574c2 237px,#3063b6 239px,#2f62b5 253px,#3365b8 261px,#2e60b3 276px,#2f62b5 297px,#3063b6 309px,#1f4697 333px,#132963 347px,#0f1d4c 366px,#102153 379px,#101f50 390px,#112154 405px,#102153 422px,#12245a 428px,#101f50 434px)"></i>
<i style="left:154px;background:linear-gradient(#f7c7b6 0,#f6d1c5 177px,#f4e1e1 208px,#e4e7f3 224px,#c4d1eb 228px,#7a9ad5 232px,#4876c3 235px,#2e60b3 240px,#3466b8 256px,#2e60b3 297px,#3869bb 306px,#1f4798 333px,#18367d 341px,#142b68 346px,#102051 361px,#102052 371px,#112358 377px,#101f4f 383px,#112357 423px,#12265d 428px,#101e4f 434px)"></i>
<i style="left:156px;background:linear-gradient(#f6c8b7 0,#f6d1c5 174px,#ece8ef 215px,#dce1f1 221px,#bbcae9 224px,#5982ca 230px,#3f6fbf 233px,#2e60b3 243px,#3163b6 265px,#2d5fb2 298px,#396abc 306px,#234ea1 329px,#1a3a85 340px,#142b68 345px,#12245a 355px,#101f50 360px,#112257 365px,#102052 370px,#12255b 376px,#0f1d4d 382px,#112255 419px,#12245b 429px,#0f1e4e 434px)"></i>
<i style="left:158px;background:linear-gradient(#f6cbbb 0,#f6d4c9 170px,#ece8ef 209px,#d9e0f0 216px,#b1c3e6 220px,#4f7bc6 226px,#3769ba 231px,#2b5caf 251px,#2d5fb2 266px,#2c5db0 299px,#3567b9 306px,#2e60b3 314px,#2451a4 327px,#19377f 340px,#142964 344px,#112358 355px,#0f1d4d 360px,#112256 365px,#102052 371px,#112256 376px,#0f1d4c 382px,#102052 403px,#101f51 419px,#112155 425px,#102154 430px,#0f1d4c 434px)"></i>
<i style="left:160px;background:linear-gradient(#f6ccbd 0,#f6d4ca 166px,#ebe8f0 204px,#d8deef 209px,#8ea9db 217px,#507bc6 222px,#3869bb 227px,#2b5bae 251px,#2c5db0 267px,#2d5fb2 300px,#3567b9 311px,#2a5aad 319px,#2655a8 326px,#19377f 340px,#132863 345px,#12245a 355px,#0f1d4d 360px,#112155 367px,#102052 377px,#0f1d4c 397px,#112154 407px,#101f51 424px,#112357 429px,#0f1d4c 434px)"></i>
<i style="left:162px;background:linear-gradient(#f6cec0 0,#f6d5cc 162px,#ebe8f0 197px,#dae0f0 203px,#b1c3e6 207px,#7496d3 212px,#4070c0 220px,#3062b5 232px,#2b5bae 245px,#2c5db0 267px,#2d5fb2 300px,#3063b5 313px,#2a5aad 319px,#2654a7 326px,#193881 340px,#142965 346px,#112359 356px,#0f1e4f 361px,#112257 368px,#0f1d4d 397px,#112257 407px,#101f50 423px,#112359 429px,#0f1e4e 434px)"></i>
<i style="left:164px;background:linear-gradient(#f6cdbe 0,#f6d4ca 163px,#eae8f0 192px,#d9dff0 197px,#a0b6e1 203px,#6188cd 208px,#4675c4 214px,#3567b9 227px,#2e60b3 251px,#2e60b3 267px,#3063b6 299px,#3365b7 313px,#2c5db0 319px,#2858ab 326px,#1a3c88 341px,#152e6d 347px,#12265e 357px,#112256 362px,#12265e 368px,#101f50 391px,#102153 397px,#12245a 409px,#112154 418px,#132761 429px,#102154 434px)"></i>
<i style="left:166px;background:linear-gradient(#f6d0c4 0,#f5d7d0 159px,#eae7f0 185px,#c6d2eb 193px,#5a83ca 203px,#4272c1 208px,#3164b6 225px,#3164b6 253px,#2c5eb1 273px,#3062b5 313px,#2959ac 319px,#2857aa 326px,#1a3a85 342px,#152d6b 348px,#12255b 358px,#112359 364px,#102052 389px,#101e4f 396px,#112358 401px,#102052 420px,#12265d 429px,#101f50 434px)"></i>
<i style="left:168px;background:linear-gradient(#f6d5cc 0,#f5dcd9 158px,#ebe8f0 179px,#d2dbee 184px,#6188cd 195px,#4473c2 200px,#2e61b3 217px,#2f61b4 249px,#2a5bae 273px,#2a5aad 290px,#2e5fb2 313px,#2958ab 320px,#2756a9 327px,#193780 343px,#152c6a 348px,#12265e 357px,#112155 363px,#101f51 370px,#101e4f 397px,#102153 406px,#101e4f 423px,#112256 429px,#0f1d4c 434px)"></i>
<i style="left:170px;background:linear-gradient(#f5d7d0 0,#f4dedc 157px,#eae8f0 176px,#d0d9ee 179px,#7d9cd6 185px,#557fc9 189px,#386abb 200px,#2e60b3 217px,#2f62b5 245px,#2c5db0 265px,#2c5db0 275px,#2b5bae 289px,#2d5fb2 314px,#2b5caf 321px,#2654a7 330px,#193881 344px,#162f6f 349px,#152c6a 355px,#112358 362px,#0f1e4e 396px,#112357 403px,#101f50 424px,#102051 431px,#0f1d4c 434px)"></i>
<i style="left:172px;background:linear-gradient(#f5d8d2 0,#f4dfdd 157px,#e9e8f1 174px,#d9dff0 176px,#7798d4 180px,#5d85cc 182px,#4070c0 190px,#2f61b4 209px,#3063b6 244px,#3466b9 251px,#2d5eb1 276px,#2c5db0 288px,#2d5fb2 295px,#2c5db0 327px,#1b3e8b 344px,#173378 349px,#173376 354px,#12265d 361px,#112154 383px,#112154 397px,#112359 405px,#112154 424px,#102051 432px,#0f1e4e 434px)"></i>
<i style="left:174px;background:linear-gradient(#f5dad5 0,#f4e0df 156px,#eae7f0 170px,#d9dfef 173px,#bdcce9 175px,#5c85cb 179px,#4876c4 181px,#2f62b5 207px,#3062b5 244px,#3365b7 251px,#2f62b5 281px,#2c5db0 294px,#2f62b5 302px,#2b5caf 330px,#1c3f8d 345px,#19377f 349px,#18357b 354px,#132760 360px,#102154 382px,#112358 410px,#112358 423px,#112257 430px,#101f51 434px)"></i>
<i style="left:176px;background:linear-gradient(#f4e1e1 0,#f1e6eb 161px,#e7e6f0 166px,#bfcce9 170px,#4876c4 178px,#3a6bbc 184px,#2c5eb1 213px,#2d5fb2 246px,#2d5fb2 281px,#2959ac 289px,#2d5eb1 306px,#2857aa 331px,#1c4090 344px,#18367d 349px,#173174 354px,#112459 361px,#0f1e4e 378px,#101f4f 409px,#102053 422px,#112358 427px,#0f1d4d 434px)"></i>
<i style="left:178px;background:linear-gradient(#f3e3e4 0,#eee7ee 162px,#e2e4f1 164px,#8da8db 168px,#4c79c6 175px,#3164b7 188px,#2b5caf 246px,#2e60b3 281px,#2d5fb2 287px,#2c5db0 296px,#2a5aad 328px,#214b9d 341px,#1a3a84 349px,#173377 354px,#13275f 360px,#102052 393px,#0f1e4d 409px,#102052 421px,#12255b 426px,#101e4f 433px,#101f4f 434px)"></i>
<i style="left:180px;background:linear-gradient(#f3e5e8 0,#eee7ee 161px,#e3e5f1 163px,#c8d4ec 164px,#82a0d8 166px,#6e91d1 167px,#658ace 170px,#3e6ebf 180px,#2e60b3 192px,#2a5aad 241px,#2e60b3 275px,#2f61b4 281px,#3466b8 285px,#2b5caf 295px,#2d5fb2 326px,#2655a8 335px,#234fa1 341px,#1b3e8c 350px,#142b68 359px,#12265d 373px,#112255 393px,#101e4f 419px,#112358 427px,#102052 434px)"></i>
<i style="left:182px;background:linear-gradient(#f2e6eb 0,#ebe8f0 162px,#d9dff0 164px,#92acdc 167px,#7a9ad5 170px,#5d85cc 175px,#4171c1 179px,#2c5db0 190px,#2c5db0 220px,#2d5eb1 233px,#2958ab 247px,#2e60b3 275px,#2e61b4 281px,#3164b6 286px,#2959ac 307px,#2e5fb2 325px,#2452a5 334px,#2654a7 340px,#1c4090 349px,#152c6b 359px,#12255b 370px,#12255c 380px,#12245b 386px,#102053 392px,#101e4f 419px,#101f51 434px)"></i>
<i style="left:184px;background:linear-gradient(#f1e6eb 0,#eae8f0 164px,#cdd7ed 168px,#92abdc 174px,#4a78c5 178px,#2e60b3 186px,#2b5caf 203px,#2b5caf 221px,#2b5caf 231px,#2857aa 242px,#2b5bae 250px,#2d5fb2 281px,#2e60b3 287px,#2959ac 307px,#2c5eb1 325px,#2451a4 334px,#2756a9 340px,#18367e 354px,#152c6a 360px,#112358 370px,#112257 379px,#12265e 385px,#101f4f 391px,#0f1e4d 434px)"></i>
<i style="left:186px;background:linear-gradient(#f2e6eb 0,#ebe8f0 166px,#dbe1f1 172px,#c8d4ec 174px,#b3c4e6 175px,#547ec9 178px,#3e6fbf 180px,#2a5bae 190px,#2c5db0 205px,#2b5bae 221px,#2a5bae 230px,#2756a9 242px,#2857aa 249px,#2e61b4 283px,#2958ab 307px,#2a5aad 327px,#2552a5 334px,#2857aa 340px,#173276 355px,#142b68 361px,#112255 370px,#102051 379px,#112359 385px,#0f1d4c 392px,#0f1d4c 434px)"></i>
<i style="left:188px;background:linear-gradient(#f3e5e7 0,#ece8ef 168px,#e3e6f2 174px,#d6def0 175px,#bccbe9 176px,#7294d2 178px,#5680ca 179px,#4372c2 181px,#3163b5 193px,#2e60b3 205px,#2e61b4 221px,#2959ac 243px,#2d5eb1 256px,#2f61b4 281px,#2d5fb2 318px,#2b5caf 336px,#2756a9 343px,#173275 360px,#162f6f 365px,#132862 370px,#132760 375px,#12245a 380px,#112255 399px,#112256 406px,#0f1d4c 413px,#112459 420px,#0f1d4d 426px,#101f4f 434px)"></i>
<i style="left:190px;background:linear-gradient(#f5d9d3 0,#f4e1e0 157px,#e9e8f1 174px,#e4e6f2 175px,#d2dbef 176px,#658bce 179px,#4f7bc7 180px,#4271c1 184px,#2f61b4 205px,#2f62b4 221px,#2d5eb1 248px,#2c5db0 262px,#2d5eb1 278px,#2e60b3 290px,#2a5aad 342px,#18367d 360px,#163174 366px,#152d6d 371px,#142964 376px,#112255 387px,#112358 400px,#112154 407px,#0f1e4d 414px,#12255c 419px,#0f1d4d 426px,#101f50 434px)"></i>
<i style="left:192px;background:linear-gradient(#f6cabb 0,#f6d5cc 153px,#f3e2e3 169px,#ebe8f0 175px,#e4e5f1 176px,#ccd6ed 177px,#82a0d8 179px,#688dcf 180px,#517cc7 182px,#3467b9 195px,#2c5eb1 248px,#2858ab 271px,#2e60b3 285px,#2b5caf 304px,#2755a8 343px,#18367d 362px,#142a66 376px,#0f1e4e 386px,#112154 400px,#0f1e4e 416px,#102053 420px,#0f1d4c 431px,#0f1d4c 434px)"></i>
<i style="left:194px;background:linear-gradient(#f7bba4 0,#f7c7b6 141px,#f6d3c9 166px,#efe6ec 176px,#dfe1ef 178px,#9ab1df 182px,#517cc7 190px,#3e6ebe 195px,#2d5fb2 221px,#2d5fb2 250px,#2756a9 271px,#2c5caf 284px,#2a5aad 291px,#2959ac 321px,#2554a7 344px,#19377e 366px,#163071 375px,#0f1e4d 386px,#102053 399px,#112154 405px,#0f1e4e 417px,#0f1d4c 434px)"></i>
<i style="left:196px;background:linear-gradient(#f6ad91 0,#f7bba5 140px,#f6c8b8 166px,#f4dcd9 176px,#e6e4ee 182px,#b5c5e6 188px,#7596d3 194px,#4573c2 201px,#3063b5 224px,#2d5eb1 252px,#2a5aad 265px,#2858ab 277px,#2c5db0 290px,#2a5aad 305px,#2959ac 320px,#2655a8 344px,#1a3a84 368px,#173275 376px,#0f1e4d 387px,#112257 400px,#102052 406px,#0f1d4c 434px)"></i>
<i style="left:198px;background:linear-gradient(#f69d7e 0,#f6ad91 130px,#f7bea8 167px,#f5d9d2 180px,#eae5ed 188px,#b9c8e7 197px,#82a0d7 203px,#658bce 210px,#4876c3 215px,#3466b8 234px,#2d5eb1 264px,#2958ab 274px,#3063b6 289px,#2c5db0 297px,#2a5aad 320px,#2857aa 345px,#193882 376px,#102052 388px,#12245b 404px,#101f4f 413px,#0f1d4c 434px)"></i>
<i style="left:200px;background:linear-gradient(#f48e6b 0,#f6a081 129px,#f7b59c 169px,#f5d7cf 186px,#e9e5ee 198px,#b8c8e8 210px,#91abdc 215px,#7c9cd6 220px,#507cc7 226px,#3a6bbc 235px,#2d5eb1 265px,#3062b5 290px,#2e60b3 310px,#2a5bae 328px,#2959ac 346px,#1a3b87 377px,#12245a 387px,#12255c 403px,#101f50 411px,#0f1d4c 434px)"></i>
<i style="left:202px;background:linear-gradient(#f27e5b 0,#f4906d 115px,#f6aa8d 168px,#f6d2c7 192px,#ebe6ed 209px,#c9d4ec 220px,#547fc8 234px,#3567b9 251px,#2e60b3 284px,#2857aa 337px,#2655a8 349px,#1d4292 367px,#1b3d8a 374px,#193881 379px,#12245b 386px,#12255c 398px,#0f1d4c 409px,#0f1d4c 434px)"></i>
<i style="left:204px;background:linear-gradient(#f17051 0,#f38562 126px,#f6a384 173px,#efe4e9 219px,#d3daed 229px,#99b1de 238px,#7798d4 244px,#5c84ca 248px,#3c6dbd 261px,#3264b7 283px,#2756a9 335px,#2857aa 349px,#20499a 366px,#1c3f8e 373px,#1c3f8c 379px,#132963 386px,#142c69 396px,#101f50 405px,#102052 433px,#102153 434px)"></i>
<i style="left:206px;background:linear-gradient(#f06549 0,#f17454 120px,#f4906d 170px,#f6cabb 214px,#eae4ec 235px,#cbd5ec 245px,#a3b8e1 255px,#86a3d8 261px,#7d9cd6 266px,#4f7bc6 271px,#527dc7 283px,#5881c9 289px,#2c5eb1 327px,#2e5fb2 349px,#2756a9 366px,#214b9d 373px,#224d9f 379px,#18367d 387px,#1a3a84 396px,#132863 405px,#132862 420px,#132761 432px,#142a67 434px)"></i>
<i style="left:208px;background:linear-gradient(#f06144 0,#f16f51 132px,#f48b68 177px,#f7c6b5 224px,#eae5ed 250px,#c7d3ec 266px,#8da8db 272px,#93addd 279px,#99b1de 283px,#a5bae2 287px,#8ca7db 298px,#537ec8 307px,#4170c0 314px,#3164b7 335px,#2959ac 366px,#2350a2 374px,#214b9d 381px,#1b3d8b 388px,#1b3e8b 396px,#142a66 408px,#142b69 419px,#132761 425px,#142a67 433px,#142b69 434px)"></i>
<i style="left:210px;background:linear-gradient(#ef5e40 0,#f06d4f 143px,#f48c68 187px,#f6c8b7 239px,#ede5ec 265px,#dadded 274px,#dde1f0 292px,#ced8ed 299px,#7c9cd6 309px,#5680c9 315px,#386abb 334px,#2e60b3 357px,#2a5aad 366px,#2553a6 375px,#1f4698 384px,#1b3d89 399px,#142b69 410px,#152d6b 419px,#132964 425px,#152c6b 434px)"></i>
<i style="left:212px;background:linear-gradient(#ef5c3d 0,#f06b4e 155px,#f48d6a 200px,#f6caba 256px,#f3dfde 281px,#e9e6ef 302px,#c6d2eb 310px,#93acdd 319px,#4d7ac6 331px,#3466b8 357px,#3264b7 364px,#2959ac 375px,#1c3f8e 404px,#173478 411px,#163072 425px,#173378 434px)"></i>
<i style="left:214px;background:linear-gradient(#ef5a3b 0,#f06a4d 162px,#f48d6a 209px,#f6d0c3 286px,#f3e2e2 305px,#dee1ef 316px,#bfcdea 323px,#5c84cb 334px,#4775c4 340px,#2d5fb2 366px,#224c9e 392px,#1b3e8c 406px,#173174 416px,#173276 434px)"></i>
<i style="left:216px;background:linear-gradient(#ef5839 0,#f0674b 165px,#f48c69 219px,#f6cec1 303px,#e9e6ef 323px,#c1ceea 331px,#507bc6 345px,#4070c0 354px,#2959ac 380px,#1e4394 406px,#18347a 418px,#18347a 431px,#183479 434px)"></i>
<i style="left:218px;background:linear-gradient(#ef5637 0,#f06548 164px,#f3825e 219px,#f7c1ad 305px,#ece5ec 331px,#c8d3ec 340px,#7899d4 350px,#4674c3 361px,#2c5eb1 383px,#1e4595 412px,#1c3f8d 420px,#1a3a84 434px)"></i>
<i style="left:220px;background:linear-gradient(#ef5536 0,#f06346 163px,#f27756 211px,#f59877 261px,#f7bba4 310px,#eee5ec 340px,#ced7ed 349px,#a4b9e2 356px,#688dcf 363px,#3f6fbf 374px,#2a5aad 394px,#1e4494 427px,#1b3e8c 434px)"></i>
<i style="left:222px;background:linear-gradient(#ef5436 0,#f06245 162px,#f17454 212px,#f4916f 261px,#f7b59c 312px,#f4ddd9 341px,#e5e5f0 354px,#c3d0eb 361px,#4372c1 379px,#2d5fb2 390px,#1d4292 434px)"></i>
<i style="left:224px;background:linear-gradient(#ef5435 0,#f06144 160px,#f17354 216px,#f4916f 268px,#f7b49b 317px,#f5dbd6 348px,#e7e6f1 362px,#c1cfea 372px,#8da8db 378px,#5f86cb 383px,#3a6abb 390px,#2552a5 409px,#204799 434px)"></i>
<i style="left:226px;background:linear-gradient(#ef5234 0,#ef6042 159px,#f17253 220px,#f4906e 275px,#f7b49a 324px,#f6d5cd 353px,#ebe8f0 367px,#d7dff0 378px,#9cb3df 387px,#547ec7 396px,#3465b7 403px,#2858ab 416px,#2552a5 431px,#2654a7 434px)"></i>
<i style="left:228px;background:linear-gradient(#ef5233 0,#ef5f41 158px,#f17152 221px,#f48f6c 276px,#f7b79f 333px,#f5d6ce 359px,#ede7ee 369px,#dce2f1 385px,#b0c2e5 395px,#4372c0 408px,#2d5eb1 417px,#2756a9 430px,#2a5aad 434px)"></i>
<i style="left:230px;background:linear-gradient(#ef5233 0,#ef6042 158px,#f17253 219px,#f4906e 275px,#f7bea8 342px,#f5d7cf 361px,#efe7ed 369px,#d8dff0 383px,#c0ceea 399px,#98b1df 406px,#4674c2 416px,#2958ab 429px,#2b5caf 434px)"></i>
<i style="left:232px;background:linear-gradient(#ef5234 0,#ef6143 159px,#f17353 214px,#f59371 273px,#f7c5b3 347px,#f5d8d0 361px,#ede7ee 369px,#dfe4f2 373px,#cbd6ed 377px,#b5c6e7 392px,#a0b7e1 407px,#7294d3 416px,#3869ba 428px,#3466b8 434px)"></i>
<i style="left:234px;background:linear-gradient(#ef5233 0,#f06144 159px,#f17354 210px,#f59473 270px,#f7c7b5 348px,#f5d8d2 361px,#ede7ef 368px,#dfe4f2 371px,#bbcbe9 375px,#92acdd 389px,#7898d5 412px,#4f7bc7 426px,#4775c4 433px,#4776c4 434px)"></i>
<i style="left:236px;background:linear-gradient(#ef5133 0,#f06244 159px,#f17354 207px,#f59b7a 277px,#f6c8b7 350px,#f5d8d2 361px,#eee7ee 367px,#dce1f1 370px,#afc2e6 373px,#95aede 379px,#7495d3 388px,#5781ca 414px,#4574c3 429px,#4c7ac7 434px)"></i>
<i style="left:238px;background:linear-gradient(#ef5032 0,#f06244 157px,#f17454 204px,#f6a688 292px,#f6caba 352px,#f5d9d3 361px,#ece8f0 367px,#e0e4f2 369px,#a4bae2 372px,#88a4da 375px,#6389ce 387px,#4776c4 415px,#4473c3 431px,#4977c6 434px)"></i>
<i style="left:240px;background:linear-gradient(#ef5032 0,#f06245 155px,#f17555 200px,#f7c2af 334px,#f6d5cb 357px,#e9e8f1 367px,#e1e5f2 368px,#89a4da 372px,#6a8ed0 375px,#507cc8 386px,#4675c3 404px,#3a6bbc 422px,#4372c2 434px)"></i>
<i style="left:242px;background:linear-gradient(#ef5032 0,#f06346 154px,#f27656 195px,#f7b79f 304px,#f5d7cf 355px,#eae8f1 366px,#e4e7f2 367px,#bccce9 369px,#7294d3 372px,#5580ca 375px,#4675c4 386px,#3c6dbd 402px,#396abb 413px,#3567b9 422px,#3d6dbe 434px)"></i>
<i style="left:244px;background:linear-gradient(#ef5032 0,#f06447 153px,#f27857 193px,#f69f7f 252px,#f5d7ce 352px,#eae8f1 365px,#dce2f1 367px,#7898d4 371px,#5982cb 373px,#4977c5 378px,#3768ba 401px,#3c6dbd 407px,#3567b9 422px,#3a6bbc 434px)"></i>
<i style="left:246px;background:linear-gradient(#ef4e31 0,#f06346 152px,#f27656 191px,#f59c7b 246px,#f6d4ca 353px,#ebe8f0 365px,#d8dff0 367px,#7a99d5 371px,#5f87cd 374px,#3b6cbd 400px,#4574c3 406px,#3d6dbe 420px,#4170c0 433px,#4170c0 434px)"></i>
<i style="left:248px;background:linear-gradient(#ef4d2f 0,#f06245 150px,#f17454 189px,#f59a79 244px,#f6d1c5 354px,#ece8f0 365px,#d8dff0 367px,#84a0d8 371px,#7293d2 374px,#4c79c6 393px,#4775c4 401px,#557fc9 405px,#4876c5 410px,#4c79c6 417px,#507cc8 423px,#547fc9 428px,#4e7bc7 434px)"></i>
<i style="left:250px;background:linear-gradient(#ef4d30 0,#f06346 150px,#f27857 191px,#f59c7c 241px,#f6d5cc 354px,#ede7ef 364px,#e2e5f2 366px,#8aa5da 370px,#7092d2 372px,#4a78c5 393px,#4776c4 402px,#4c79c6 406px,#4876c4 411px,#4a78c5 417px,#4f7bc7 423px,#507cc8 428px,#507cc8 434px)"></i>
<i style="left:252px;background:linear-gradient(#ef4f31 0,#f06447 150px,#f27a59 189px,#f6a080 237px,#f4ddd9 352px,#eae8f1 364px,#d9e0f1 366px,#6d90d1 371px,#5680ca 374px,#4675c4 385px,#4171c0 403px,#4574c3 424px,#4977c5 434px)"></i>
<i style="left:254px;background:linear-gradient(#ef4e30 0,#f06447 149px,#f27857 186px,#f59472 216px,#f5dcd9 352px,#ebe8f0 364px,#e2e5f2 366px,#809ed7 371px,#5e86cc 375px,#4c79c6 381px,#4675c4 423px,#4c79c6 432px,#517dc8 434px)"></i>
<i style="left:256px;background:linear-gradient(#ef4f31 0,#f06548 149px,#f27c5a 189px,#f6a283 236px,#f4e1e0 352px,#e9e8f2 365px,#dce2f1 367px,#819fd7 372px,#4e7bc7 379px,#4473c2 410px,#4876c4 434px)"></i>
<i style="left:258px;background:linear-gradient(#ef4f31 0,#f06548 149px,#f27c59 188px,#f6a384 236px,#f4e1e1 352px,#e7e8f2 367px,#d0daee 369px,#9cb4e0 372px,#6087cd 380px,#537ec9 385px,#4876c4 434px)"></i>
<i style="left:260px;background:linear-gradient(#ef4f31 0,#f06548 149px,#f27d5a 189px,#f6a485 236px,#f3e3e5 353px,#e7e8f2 368px,#d4dcef 370px,#adc1e5 373px,#6d90d1 384px,#5f86cd 396px,#5b84cb 413px,#5982cb 422px,#527dc8 434px)"></i>
<i style="left:262px;background:linear-gradient(#ef4e31 0,#f06448 148px,#f27b59 186px,#f59978 218px,#f4e3e4 354px,#e5e7f3 370px,#c5d2ec 375px,#afc2e5 381px,#98b0de 386px,#7b9bd6 393px,#7e9dd6 399px,#7898d5 407px,#87a3d9 418px,#7b9ad5 426px,#7193d2 434px)"></i>
<i style="left:264px;background:linear-gradient(#ef4e30 0,#f06448 149px,#f27b59 187px,#f59978 219px,#f4e0e0 355px,#e7e8f2 372px,#d8dff0 381px,#a5bae3 393px,#afc2e5 398px,#a0b6e1 405px,#b5c6e7 419px,#a7bbe3 425px,#a0b7e1 430px,#98b0de 434px)"></i>
<i style="left:266px;background:linear-gradient(#ef4e31 0,#f06548 149px,#f27c59 188px,#f6a283 235px,#f4e2e3 358px,#e1e5f2 384px,#c9d5ed 393px,#d3dbef 398px,#c2cfeb 405px,#cad5ed 416px,#c6d2ec 421px,#b9cae8 430px,#b1c3e6 434px)"></i>
<i style="left:268px;background:linear-gradient(#ef4e30 0,#f06448 149px,#f27a59 187px,#f59877 218px,#f4e1e2 360px,#e8e8f2 385px,#d7dff0 428px,#ced8ee 434px)"></i>
<i style="left:270px;background:linear-gradient(#ef4f31 0,#f06548 149px,#f27f5b 191px,#f6a384 236px,#eee7ee 373px,#e5e8f3 434px)"></i>
<i style="left:272px;background:linear-gradient(#ef5032 0,#f06649 150px,#f48c69 203px,#f6a88a 238px,#f1e6eb 360px,#e2e5f2 417px,#dce2f1 434px)"></i>
<i style="left:274px;background:linear-gradient(#ef5032 0,#f06549 150px,#f48b68 203px,#f6a587 236px,#f1e6eb 365px,#e3e6f2 416px,#d9e0f1 431px,#dae0f1 434px)"></i>
<i style="left:276px;background:linear-gradient(#ef4f31 0,#f06548 150px,#f37f5c 193px,#f6a182 235px,#f4e1e2 365px,#efe7ed 380px,#e7e8f3 434px)"></i>
<i style="left:278px;background:linear-gradient(#ef4f31 0,#f06548 150px,#f3815d 195px,#f6a182 234px,#f4e2e2 365px,#efe7ed 383px,#e5e7f2 414px,#d4dbef 425px,#d4dbef 434px)"></i>
<i style="left:280px;background:linear-gradient(#ef4f31 0,#f06548 150px,#f3825e 196px,#f6a182 233px,#f3e4e6 366px,#e7e9f3 410px,#c4d1eb 415px,#95aedd 421px,#8ea8db 434px)"></i>
<i style="left:282px;background:linear-gradient(#ef5032 0,#f06649 151px,#f48b68 204px,#f6a485 236px,#f2e6eb 372px,#e7e8f3 411px,#b4c5e6 422px,#b2c3e6 434px)"></i>
<i style="left:284px;background:linear-gradient(#ef5032 0,#f0664a 151px,#f48b68 202px,#f6a789 237px,#f2e6eb 363px,#e5e8f3 415px,#d3dcef 425px,#d3dcef 434px)"></i>
<i style="left:286px;background:linear-gradient(#ef5133 0,#f0664a 151px,#f48c68 202px,#f6a789 237px,#f2e6eb 363px,#e4e6f2 434px)"></i>
<i style="left:288px;background:linear-gradient(#ef5032 0,#f06649 151px,#f48b68 204px,#f6a485 236px,#f2e6eb 374px,#e5e7f2 417px,#dde2f1 433px,#dde2f1 434px)"></i>
<i style="left:290px;background:linear-gradient(#ef5133 0,#f0664a 152px,#f48d6a 204px,#f6a689 238px,#f3e6e9 368px,#e7e8f2 411px,#b5c5e7 422px,#b3c4e6 434px)"></i>
<i style="left:292px;background:linear-gradient(#ef5234 0,#f0674b 153px,#f48d69 201px,#f6ab8f 240px,#f1e6ec 357px,#e5e8f3 413px,#cbd6ed 424px,#cbd6ed 434px)"></i>
<i style="left:294px;background:linear-gradient(#ef5233 0,#f0674b 153px,#f48d69 202px,#f6a98d 240px,#f2e6eb 362px,#e6e8f3 412px,#bdcce9 422px,#bccbe9 434px)"></i>
<i style="left:296px;background:linear-gradient(#ef5133 0,#f0674a 153px,#f48c69 203px,#f6a789 238px,#f3e6ea 370px,#e5e8f3 414px,#cad5ec 423px,#cad5ec 434px)"></i>
<i style="left:298px;background:linear-gradient(#ef5234 0,#f0674b 154px,#f48d6a 203px,#f6a88b 240px,#f3e5e9 366px,#e7e6f0 434px)"></i>
<i style="left:300px;background:linear-gradient(#ef5234 0,#f0684b 154px,#f48d6a 202px,#f6aa8e 241px,#f1e6eb 363px,#e6e6f1 412px,#c8d2eb 423px,#c8d2ea 434px)"></i>
<i style="left:302px;background:linear-gradient(#ef5234 0,#f0674b 154px,#f48d6a 204px,#f6a78a 240px,#f2e6eb 373px,#e4e3ef 434px)"></i>
<i style="left:304px;background:linear-gradient(#ef5334 0,#f0684b 155px,#f48d69 203px,#f6a88a 240px,#f3e6ea 370px,#ece8ef 434px)"></i>
<i style="left:306px;background:linear-gradient(#ef5335 0,#f0684c 156px,#f48d69 204px,#f6a789 241px,#f2e6eb 374px,#e8e8f1 410px,#acbbe0 421px,#a8b9df 434px)"></i>
<i style="left:308px;background:linear-gradient(#ef5234 0,#f0674b 156px,#f48d6a 208px,#f6a88b 252px,#f3e4e7 372px,#e8e8f1 410px,#a9bbe1 421px,#a4b8e0 434px)"></i>
<i style="left:310px;background:linear-gradient(#ef5335 0,#f0674b 157px,#f48d69 209px,#f3e4e6 372px,#ebe8f0 419px,#ebe8f0 434px)"></i>
<i style="left:312px;background:linear-gradient(#ef5335 0,#f0674b 159px,#f48d69 212px,#f4e0e0 370px,#ece8ef 395px,#e9e6ef 434px)"></i>
<i style="left:314px;background:linear-gradient(#ef5436 0,#f0674b 161px,#f48d69 217px,#f5d8d2 365px,#efe7ed 387px,#e5e5f1 416px,#dadeee 429px,#dadeee 434px)"></i>
<i style="left:316px;background:linear-gradient(#ef5536 0,#f0674a 164px,#f59674 243px,#f6d4cb 366px,#f4e0df 379px,#f1e6eb 385px,#ebe7ef 434px)"></i>
<i style="left:318px;background:linear-gradient(#ef5637 0,#f0664a 164px,#f59674 249px,#f6d3c7 363px,#f0e7ed 387px,#e6e7f2 412px,#bfcce9 423px,#becce8 434px)"></i>
<i style="left:320px;background:linear-gradient(#ef5839 0,#f0664a 164px,#f59573 252px,#f6d2c6 360px,#f1e7ec 385px,#e6e7f2 412px,#c4d0ea 423px,#c3d0ea 434px)"></i>
<i style="left:322px;background:linear-gradient(#ef593a 0,#f06649 164px,#f49371 255px,#f6d0c4 360px,#f1e7ec 385px,#eae8f1 434px)"></i>
<i style="left:324px;background:linear-gradient(#ef593a 0,#f06549 165px,#f48f6c 255px,#f6ccbd 357px,#ede7ee 389px,#e5e7f2 413px,#ced8ed 424px,#ced7ed 434px)"></i>
<i style="left:326px;background:linear-gradient(#ef5a3b 0,#f06649 166px,#f48e6b 254px,#f6cfc1 358px,#ede7ee 388px,#e4e7f3 413px,#cad5ed 424px,#c9d5ed 434px)"></i>
<i style="left:328px;background:linear-gradient(#ef5d3f 0,#f0684c 167px,#f49270 251px,#f6d0c4 349px,#eee7ee 382px,#e5e8f3 411px,#bdcce9 422px,#bbcae9 434px)"></i>
<i style="left:330px;background:linear-gradient(#ef6042 0,#f06b4e 162px,#f4916f 242px,#f6d0c4 340px,#efe7ed 378px,#e1e5f2 415px,#cfd8ee 434px)"></i>
<i style="left:332px;background:linear-gradient(#f06245 0,#f06d4f 151px,#f4916f 231px,#f6d3c8 331px,#eee7ee 372px,#dbe1f0 398px,#ccd6ed 411px,#aec1e5 425px,#9bb2df 434px)"></i>
<i style="left:334px;background:linear-gradient(#f06448 0,#f16f51 137px,#f4916f 213px,#f6ae92 261px,#efe6ec 350px,#dee1f0 370px,#ccd6ed 381px,#94aedd 396px,#7e9ed6 401px,#7798d3 408px,#517cc5 418px,#3e6dbd 434px)"></i>
<i style="left:336px;background:linear-gradient(#f0684c 0,#f27756 130px,#f59978 206px,#f7b49a 252px,#f0e5e9 321px,#dce0ef 345px,#a9bce3 364px,#7395d2 374px,#6a8fcf 380px,#406ebc 390px,#3160b2 402px,#2653a6 434px)"></i>
<i style="left:338px;background:linear-gradient(#f17052 0,#f3835f 135px,#f7b9a1 244px,#f1e4e7 292px,#dfe1ef 317px,#b5c5e6 334px,#7899d3 346px,#4d79c2 356px,#2b5aac 375px,#1f4798 411px,#1e4393 434px)"></i>
<i style="left:340px;background:linear-gradient(#f27958 0,#f48a66 128px,#f7bfa9 239px,#f1e5e9 274px,#dee1ef 293px,#b0c2e5 308px,#567fc6 328px,#4371be 335px,#2b5aac 347px,#1c408f 390px,#1b3c89 408px,#1a3a85 431px,#193982 434px)"></i>
<i style="left:342px;background:linear-gradient(#f27f5c 0,#f48d6a 115px,#f7bda7 229px,#f6d3c9 249px,#f0e6eb 263px,#dadfef 277px,#91abdc 293px,#658acd 300px,#3766b7 314px,#224d9f 339px,#1a3a84 377px,#193983 399px,#173377 405px,#1a3b87 413px,#19377e 430px,#18347a 434px)"></i>
<i style="left:344px;background:linear-gradient(#f3835f 0,#f59472 124px,#f7c3af 234px,#f5d8d2 248px,#ebe6ee 258px,#d1d9ee 266px,#93addd 277px,#5b83ca 286px,#3061b3 300px,#1d4292 350px,#1b3e8c 360px,#1b3c88 370px,#173275 380px,#193983 387px,#1a3b86 396px,#163071 404px,#1b3d8a 413px,#18357c 434px)"></i>
<i style="left:346px;background:linear-gradient(#f48d6a 0,#f69f80 129px,#f6ccbe 233px,#f4dedc 245px,#e5e5f0 253px,#6c90d0 269px,#3f6fbf 279px,#2857aa 295px,#1c3f8c 324px,#173377 339px,#18357b 351px,#152e6d 358px,#18367d 365px,#142965 381px,#163073 387px,#163173 396px,#13265f 404px,#173378 413px,#152c6b 434px)"></i>
<i style="left:348px;background:linear-gradient(#f59473 0,#f6a588 126px,#f6cfc2 231px,#f5dcd9 241px,#eae6ef 247px,#becce9 251px,#6c90d1 258px,#4775c4 267px,#2958ab 290px,#1b3c89 314px,#18367c 320px,#193780 327px,#142b68 336px,#163173 351px,#132964 358px,#173275 365px,#142b68 374px,#142964 382px,#163071 393px,#12255c 405px,#163071 413px,#142a66 434px)"></i>
<i style="left:350px;background:linear-gradient(#f59a79 0,#f6aa8d 126px,#f6d0c3 231px,#f4ddd9 240px,#ede6ed 244px,#e3e3ef 245px,#83a1d8 249px,#648ace 252px,#4977c5 258px,#2756a9 290px,#214a9b 301px,#1a3b87 313px,#163071 319px,#18367d 326px,#142b68 337px,#162f70 352px,#142965 358px,#163071 365px,#142a66 372px,#142b69 383px,#152e6d 397px,#132760 406px,#162f6f 414px,#142b68 427px,#142b67 434px)"></i>
<i style="left:352px;background:linear-gradient(#f6a080 0,#f7af94 124px,#f6d5cc 230px,#f1e6ea 241px,#e0e1ef 243px,#c5d1ea 244px,#7b9ad5 246px,#5e86cc 247px,#4573c2 249px,#2552a5 289px,#20499a 295px,#1c3f8d 302px,#173377 314px,#132963 319px,#152d6c 326px,#132761 340px,#132760 354px,#132761 366px,#12245a 372px,#132862 384px,#132862 402px,#12245a 407px,#132963 417px,#12265f 432px,#13265f 434px)"></i>
<i style="left:354px;background:linear-gradient(#f6a486 0,#f7b69d 128px,#f5dcd8 232px,#ece7ef 241px,#e0e3f0 242px,#6b8fd0 245px,#527ec8 246px,#3e6fbf 248px,#2451a3 288px,#1e4394 295px,#152e6e 315px,#12265f 320px,#132862 326px,#132760 331px,#112358 349px,#12255c 365px,#102154 372px,#112256 382px,#12255d 388px,#13275f 402px,#112255 408px,#122459 420px,#12255b 434px)"></i>
<i style="left:356px;background:linear-gradient(#f6a98c 0,#f7baa2 128px,#f4dfde 233px,#ece7ef 241px,#e0e3f1 242px,#6e91d1 245px,#4a78c5 247px,#396abc 251px,#3869bb 259px,#2654a7 284px,#193881 303px,#152d6c 316px,#132760 321px,#13275f 326px,#13275f 331px,#12255c 336px,#101f50 348px,#12255d 363px,#112154 374px,#102051 382px,#12255b 388px,#12265e 402px,#102053 410px,#12255c 434px)"></i>
<i style="left:358px;background:linear-gradient(#f6af93 0,#f7bea9 123px,#f0e7ec 239px,#e6e6f1 242px,#d3dbee 243px,#7193d2 246px,#4d79c6 248px,#3c6dbd 251px,#3769ba 258px,#2552a5 281px,#224c9e 288px,#193881 299px,#163071 312px,#142b68 317px,#12255d 322px,#112358 330px,#112459 335px,#0f1d4c 348px,#112257 363px,#0f1e4e 383px,#112359 400px,#0f1e4e 411px,#112357 434px)"></i>
<i style="left:360px;background:linear-gradient(#f7b69d 0,#f7c2af 107px,#f5d9d4 179px,#f0e6ec 228px,#ebe8f0 242px,#d9dff0 244px,#5f86cc 249px,#4775c3 251px,#2e5fb2 263px,#2450a2 279px,#224c9e 287px,#183479 297px,#142c69 313px,#12265d 318px,#0f1e4e 327px,#0f1e4e 434px)"></i>
<i style="left:362px;background:linear-gradient(#f7b79f 0,#f7c2ae 102px,#f5d7d0 173px,#f1e6ec 233px,#e6e7f1 245px,#c3d0eb 248px,#7899d4 252px,#4473c1 257px,#3466b8 263px,#2755a8 278px,#2450a2 287px,#193882 297px,#152e6e 313px,#142964 318px,#102052 325px,#101f50 348px,#101f51 360px,#102051 416px,#101f50 434px)"></i>
<i style="left:364px;background:linear-gradient(#f7b69d 0,#f7c1ad 108px,#f4e2e3 222px,#e7e8f2 248px,#d1daee 251px,#8fa9dc 255px,#557fc9 258px,#4271c1 261px,#2c5db0 277px,#2959ac 286px,#1b3d8a 301px,#163071 318px,#12255c 325px,#112256 345px,#132861 352px,#12245a 372px,#12255d 376px,#102052 381px,#12245a 388px,#102052 395px,#12245a 401px,#112459 413px,#12255c 425px,#112256 432px,#112358 434px)"></i>
<i style="left:366px;background:linear-gradient(#f7b8a0 0,#f7c4b1 104px,#f4e0e0 212px,#e8e8f2 251px,#d4dcef 254px,#b1c3e6 256px,#648ace 259px,#4877c5 261px,#2f61b4 277px,#2857aa 287px,#18357c 312px,#173275 318px,#12265e 324px,#112358 344px,#142a65 351px,#12245b 362px,#12265e 376px,#102153 380px,#12265d 386px,#101f51 394px,#12245a 402px,#12245b 427px,#112358 434px)"></i>
<i style="left:368px;background:linear-gradient(#f7c0ab 0,#f6cdbf 108px,#f1e6ec 227px,#e7e8f2 254px,#dbe1f1 256px,#b6c6e7 258px,#648ace 261px,#4876c4 263px,#2e5fb2 276px,#1e4495 298px,#18367c 307px,#152c6a 319px,#112256 325px,#101f4f 343px,#12265d 351px,#101f50 361px,#112155 370px,#101f50 377px,#102154 383px,#0f1e4e 397px,#101f51 411px,#102052 429px,#101f4f 434px)"></i>
<i style="left:370px;background:linear-gradient(#f7c1ad 0,#f6cfc1 111px,#f4e1e1 192px,#f1e6eb 223px,#e7e8f2 257px,#d9dff0 259px,#7596d3 264px,#4a78c5 268px,#3668ba 275px,#214a9c 299px,#1b3c89 307px,#173275 319px,#132760 324px,#112256 342px,#142a66 351px,#112154 363px,#12255d 369px,#112256 381px,#112357 386px,#0f1e4e 392px,#12245a 408px,#102052 419px,#12255c 428px,#112256 434px)"></i>
<i style="left:372px;background:linear-gradient(#f7c6b4 0,#f5d6ce 142px,#f2e6eb 211px,#e7e8f2 260px,#cfd8ee 263px,#7395d3 268px,#4f7bc7 270px,#3c6cbd 274px,#2958ab 290px,#234ea0 299px,#1c4090 307px,#193983 313px,#163073 320px,#132863 325px,#112256 342px,#152c69 351px,#101f50 362px,#112459 369px,#112256 381px,#112256 386px,#0f1e4e 392px,#112255 409px,#102052 420px,#112359 429px,#112256 434px)"></i>
<i style="left:374px;background:linear-gradient(#f6d0c4 0,#f4e0e0 140px,#f0e7ec 205px,#e7e8f2 263px,#d6ddef 266px,#b0c2e5 268px,#5d85cb 271px,#4170c0 273px,#2e60b3 280px,#2756a9 291px,#224ea0 298px,#1b3e8c 308px,#12255b 325px,#0f1e4d 342px,#132861 351px,#0f1d4c 360px,#0f1d4d 434px)"></i>
<i style="left:376px;background:linear-gradient(#f6d0c4 0,#f5dcd7 129px,#f1e6eb 195px,#e6e7f2 267px,#d6def0 269px,#92acdc 272px,#6389cd 274px,#4372c1 277px,#2c5caf 288px,#2958ab 297px,#1b3d89 313px,#142a65 328px,#112256 342px,#152c6a 351px,#112257 357px,#0f1d4c 362px,#112154 386px,#101e4f 410px,#0f1e4e 434px)"></i>
<i style="left:378px;background:linear-gradient(#f6cfc2 0,#f5d8d1 127px,#f2e6eb 191px,#e9e8f1 269px,#d8def0 272px,#6b8fd0 278px,#4675c3 282px,#3365b8 290px,#2d5fb2 297px,#20499a 311px,#162e6f 332px,#142a66 343px,#163173 349px,#142965 356px,#0f1d4c 361px,#101f51 369px,#112359 376px,#112358 387px,#112255 411px,#102154 419px,#102053 431px,#101e4f 434px)"></i>
<i style="left:380px;background:linear-gradient(#f6d1c5 0,#f5dad4 120px,#f2e6eb 187px,#e7e8f2 273px,#d1daee 276px,#4f7bc7 284px,#3b6cbd 288px,#2553a6 308px,#163072 334px,#152d6b 343px,#173377 347px,#13275f 357px,#0f1e4d 361px,#112154 374px,#12255c 381px,#122459 392px,#112256 420px,#101f50 431px,#0f1d4c 434px)"></i>
<i style="left:382px;background:linear-gradient(#f6d5cc 0,#f4e0df 134px,#efe7ed 205px,#e9e8f1 276px,#dde2f1 279px,#c5d2eb 281px,#5680c9 286px,#3d6ebe 289px,#2654a6 308px,#1a3a85 327px,#152d6d 342px,#18357b 347px,#142a65 353px,#112256 359px,#101f51 373px,#112359 380px,#102053 389px,#102051 429px,#0f1d4c 434px)"></i>
<i style="left:384px;background:linear-gradient(#f4dedc 0,#ede7ee 240px,#e6e7f2 281px,#d4dcef 283px,#8ea9db 286px,#5a83cb 288px,#406fbf 290px,#2f62b5 296px,#2450a2 308px,#1c3f8e 323px,#142a66 341px,#173276 347px,#12245a 353px,#0f1d4c 371px,#0f1d4c 434px)"></i>
<i style="left:386px;background:linear-gradient(#f4e0df 0,#e8e8f2 282px,#dce2f1 285px,#bfcdea 287px,#658bce 291px,#4170bf 294px,#2e5fb2 301px,#1d4393 321px,#1c3f8d 328px,#152d6b 340px,#18367e 346px,#12255c 353px,#101f50 367px,#0f1d4c 434px)"></i>
<i style="left:388px;background:linear-gradient(#f4dedc 0,#e8e8f2 286px,#dbe0f0 289px,#b3c4e6 292px,#648ace 296px,#4473c1 299px,#3062b5 306px,#224d9f 321px,#204798 329px,#18367c 340px,#1b3e8b 346px,#142b68 353px,#13275f 366px,#102153 372px,#101f50 387px,#101f50 396px,#112359 401px,#101f50 417px,#112357 425px,#0f1d4c 432px,#0f1d4c 434px)"></i>
<i style="left:390px;background:linear-gradient(#f5dcd8 0,#f3e3e5 101px,#e8e8f1 291px,#dadff0 294px,#acbfe4 297px,#648ace 301px,#4171c0 305px,#2857aa 319px,#234fa2 330px,#1d4291 341px,#1d4393 347px,#173276 354px,#152c6b 366px,#12255c 373px,#12265d 380px,#132760 385px,#102052 393px,#132963 401px,#102154 415px,#132862 424px,#0f1e4d 432px,#0f1e4d 434px)"></i>
<i style="left:392px;background:linear-gradient(#f5dcd8 0,#f4e1e1 84px,#eee7ee 215px,#eae8f1 295px,#dde2f0 298px,#b7c7e7 301px,#527dc8 307px,#3e6ebe 311px,#2c5db0 323px,#1c4191 350px,#152d6c 368px,#12255c 378px,#152c6b 384px,#12245a 393px,#142b67 401px,#112154 414px,#142a66 423px,#0f1e4e 433px,#0f1e4e 434px)"></i>
<i style="left:394px;background:linear-gradient(#f4e3e4 0,#eae8f1 299px,#dae0f0 303px,#becce9 305px,#6087cd 309px,#4775c3 311px,#2d5fb2 321px,#1c3f8e 352px,#12265e 372px,#112154 377px,#142b68 383px,#12245a 394px,#12255b 402px,#0f1d4d 412px,#12255b 424px,#0f1d4c 433px,#0f1d4c 434px)"></i>
<i style="left:396px;background:linear-gradient(#f3e5e9 0,#e7e8f3 304px,#dee3f1 306px,#abbee4 309px,#698ecf 312px,#4674c2 315px,#2f61b4 323px,#214a9c 345px,#1c3f8d 358px,#173479 364px,#132761 373px,#112359 377px,#152d6b 383px,#132863 390px,#112459 402px,#0f1d4d 409px,#102154 417px,#102052 427px,#0f1d4d 434px)"></i>
<i style="left:398px;background:linear-gradient(#f3e5e9 0,#e9e8f1 307px,#d1d9ed 311px,#94addd 315px,#5881c9 319px,#3c6dbd 323px,#2451a4 346px,#214a9b 358px,#1a3c88 365px,#173377 372px,#152c6a 377px,#173377 383px,#152d6d 389px,#152e6e 394px,#12255c 403px,#102052 410px,#112359 416px,#112459 422px,#102154 434px)"></i>
<i style="left:400px;background:linear-gradient(#f2e6eb 0,#e8e7f1 313px,#d5ddef 316px,#a4b9e2 319px,#5680c9 323px,#3b6cbd 327px,#2756a9 343px,#224c9e 358px,#1b3d8a 365px,#18357c 372px,#163071 377px,#173276 383px,#152c6a 389px,#152d6c 394px,#12245a 403px,#101f51 408px,#112256 420px,#0f1e4e 429px,#112154 434px)"></i>
<i style="left:402px;background:linear-gradient(#f1e7ec 0,#e8e8f2 317px,#d5dcef 320px,#5e86cb 327px,#4170c0 330px,#2d5fb2 338px,#214a9c 359px,#173377 376px,#18347a 382px,#142b68 388px,#142b68 395px,#12245b 403px,#102053 407px,#101f51 421px,#102051 431px,#112358 434px)"></i>
<i style="left:404px;background:linear-gradient(#f0e7ec 0,#e7e7f2 322px,#d5dcef 325px,#9ab2df 329px,#5d85cb 333px,#3d6dbe 337px,#2a5aad 350px,#224d9f 361px,#1b3c88 376px,#1b3d8b 381px,#163073 388px,#152c6a 402px,#132863 407px,#112358 422px,#112358 429px,#142a66 434px)"></i>
<i style="left:406px;background:linear-gradient(#efe7ed 0,#e8e7f1 327px,#d0d9ee 331px,#95aedd 335px,#5580c9 339px,#3869bb 344px,#224d9f 364px,#1e4494 377px,#1c3f8e 382px,#18347a 388px,#152c69 412px,#132761 419px,#132861 430px,#152d6d 434px)"></i>
<i style="left:408px;background:linear-gradient(#efe7ed 0,#e7e7f1 333px,#d7ddef 336px,#aabee3 339px,#6288cd 343px,#3f6fbf 347px,#2c5eb1 358px,#20499b 373px,#1f4697 381px,#19377f 389px,#173378 402px,#173174 410px,#132862 418px,#152c6a 432px,#162e6f 434px)"></i>
<i style="left:410px;background:linear-gradient(#eee7ee 0,#e4e7f3 338px,#c8d3ec 341px,#5680c9 348px,#3667b9 353px,#224c9e 373px,#204899 381px,#1a3983 389px,#173377 401px,#183479 409px,#132863 418px,#142965 428px,#152c69 434px)"></i>
<i style="left:412px;background:linear-gradient(#ede7ee 0,#e4e6f2 342px,#cad5ec 346px,#4c79c4 355px,#3667b9 359px,#2654a7 375px,#204899 383px,#193881 400px,#1a3b86 408px,#152e6e 419px,#163071 427px,#142c69 433px,#152c6a 434px)"></i>
<i style="left:414px;background:linear-gradient(#ede7ee 0,#e3e7f3 347px,#c1cfea 352px,#507cc7 360px,#3768ba 365px,#214c9d 389px,#1c4190 401px,#1b3e8c 412px,#18367d 420px,#1a3983 426px,#152d6c 433px,#152d6c 434px)"></i>
<i style="left:416px;background:linear-gradient(#ece8ef 0,#e4e7f3 200px,#dde3f2 233px,#e0e4f2 261px,#d6ddf0 350px,#c3d0eb 355px,#8ca7da 360px,#4e7ac5 365px,#3062b4 372px,#1d4292 402px,#1a3a84 422px,#1a3a85 427px,#142a67 433px,#142a66 434px)"></i>
<i style="left:418px;background:linear-gradient(#ece8ef 0,#e4e8f4 193px,#d8dff0 227px,#e8e8f2 244px,#e2e6f3 355px,#cad5ed 361px,#3f6fbe 374px,#2e5fb2 382px,#1f4697 413px,#1e4595 424px,#1c3f8c 429px,#163072 434px)"></i>
<i style="left:420px;background:linear-gradient(#ede7ef 0,#e5e8f4 188px,#d7def0 228px,#e7e8f2 248px,#dee3f2 355px,#c9d5ed 365px,#a3b9e2 371px,#5c84cb 376px,#3466b8 388px,#234ea0 422px,#214b9d 429px,#1b3e8b 434px)"></i>
<i style="left:422px;background:linear-gradient(#ede7ef 0,#e4e7f3 170px,#cad5ed 231px,#c9d5ec 268px,#bdcce9 356px,#acc0e5 371px,#7898d5 379px,#4272c1 389px,#2d5fb2 401px,#224c9e 430px,#1f4697 434px)"></i>
<i style="left:424px;background:linear-gradient(#ece8ef 0,#e3e7f3 161px,#bfceea 218px,#bbcbe9 288px,#afc2e6 356px,#98b0de 377px,#7d9bd6 385px,#3466b9 399px,#234fa1 434px)"></i>
<i style="left:426px;background:linear-gradient(#ece8ef 0,#e2e6f3 155px,#c4d1eb 190px,#bbcae9 229px,#d0d9ee 252px,#bdcce9 352px,#84a1d8 390px,#6f92d2 395px,#4c79c5 400px,#2e60b3 417px,#2a5aad 434px)"></i>
<i style="left:428px;background:linear-gradient(#ece8ef 0,#e1e6f3 149px,#c0ceea 184px,#b4c6e7 229px,#c8d4ec 253px,#b5c7e7 352px,#7d9bd6 397px,#547fc9 409px,#3a6bbc 416px,#3365b8 434px)"></i>
<i style="left:430px;background:linear-gradient(#ece8f0 0,#e0e5f2 141px,#b7c8e8 181px,#aabee4 229px,#b8c9e8 254px,#a5bae3 352px,#7c9ad6 396px,#6b8ed0 410px,#517cc7 417px,#4e7ac6 422px,#4473c2 427px,#4573c2 434px)"></i>
<i style="left:432px;background:linear-gradient(#ebe8f0 0,#e0e5f2 127px,#c3d0eb 159px,#adc1e5 185px,#a3b9e2 229px,#b7c8e8 253px,#a3b8e2 351px,#7696d4 393px,#648ace 422px,#5c85cc 427px,#6289ce 432px,#5f86cd 434px)"></i>
<i style="left:434px;background:linear-gradient(#ebe8f0 0,#dfe4f2 113px,#c1cfea 153px,#a6bbe3 179px,#99b1df 229px,#a9bde4 255px,#94addd 352px,#6e91d1 394px,#6288cd 434px)"></i>
<i style="left:436px;background:linear-gradient(#e9e8f1 0,#dee4f2 89px,#b7c8e8 149px,#98b0df 176px,#8ba6da 228px,#95aede 259px,#819ed7 353px,#6288ce 394px,#547fc9 434px)"></i>
<i style="left:438px;background:linear-gradient(#e9e8f2 0,#e0e5f2 65px,#b6c7e8 143px,#8fa9dc 174px,#839fd8 227px,#91abdc 255px,#7f9dd7 352px,#5c84cc 389px,#4d7ac7 434px)"></i>
<i style="left:440px;background:linear-gradient(#e8e9f3 0,#dce2f2 58px,#d6def0 72px,#a7bce3 145px,#94addd 158px,#85a1d9 175px,#7898d5 228px,#819ed7 258px,#7898d5 323px,#6e90d1 356px,#537ec9 392px,#4e7bc7 406px,#4876c5 434px)"></i>
<i style="left:442px;background:linear-gradient(#e3e7f3 0,#dce2f1 35px,#ccd7ed 63px,#c8d4ec 70px,#c5d2ec 78px,#bacae9 92px,#acbfe5 116px,#93addd 146px,#85a1d8 155px,#7797d4 176px,#6d90d1 210px,#6a8ed0 223px,#7595d3 254px,#7595d3 285px,#7293d3 299px,#6e91d1 324px,#658ace 354px,#4877c5 392px,#4373c2 434px)"></i>
<i style="left:444px;background:linear-gradient(#dbe1f1 0,#d3dcef 25px,#d1daef 35px,#c4d1eb 63px,#bfceea 70px,#bfceea 77px,#b7c8e8 84px,#b2c4e6 90px,#acc0e5 97px,#9ab1df 122px,#88a4da 146px,#7a99d5 154px,#7394d3 165px,#6c90d1 176px,#658bcf 210px,#5c85cc 220px,#6c90d1 242px,#6d90d1 268px,#6c8fd1 285px,#668bcf 298px,#698dd0 305px,#6289ce 326px,#6188cd 341px,#5680ca 361px,#4b79c6 377px,#4170c0 425px,#4171c0 434px)"></i>
<i style="left:446px;background:linear-gradient(#d5ddf0 0,#d6def0 14px,#c6d3ec 33px,#c7d3ec 42px,#bfcdea 63px,#bbcbe9 70px,#b8c9e8 78px,#b0c3e6 84px,#abbfe5 89px,#9fb6e1 95px,#a1b8e1 106px,#8fa9dc 128px,#83a0d8 146px,#7294d3 155px,#6f92d2 165px,#678ccf 174px,#658ace 186px,#668bcf 208px,#5882ca 219px,#6d90d1 242px,#6f91d2 270px,#678ccf 291px,#668bcf 298px,#6b8ed0 304px,#678ccf 311px,#6389ce 326px,#5c84cc 353px,#4b79c6 372px,#4170c0 424px,#4170c0 434px)"></i>
<i style="left:448px;background:linear-gradient(#ced8ee 0,#d2dbef 13px,#c5d2eb 20px,#bfcdea 27px,#bfcdea 36px,#bbcbe9 46px,#bbcae9 54px,#b6c7e7 64px,#b0c3e6 78px,#a7bce3 84px,#9db4e0 89px,#93acdd 95px,#96afde 105px,#8ea9db 120px,#83a0d8 126px,#7f9dd7 141px,#7c9ad6 146px,#688dcf 155px,#6b8ed0 164px,#6087cd 173px,#5a83cb 185px,#648ace 206px,#547fc9 217px,#648ace 242px,#6289ce 255px,#6289ce 287px,#5a83cb 297px,#6087cd 304px,#5a83cb 312px,#5a83cb 324px,#5881ca 347px,#4876c5 373px,#3f6fbf 424px,#3d6ebe 432px,#3f6fbf 434px)"></i>
<i style="left:450px;background:linear-gradient(#c6d3ec 0,#cfd8ee 11px,#bacae9 19px,#bbcbe9 25px,#b2c4e6 33px,#b7c8e8 42px,#a9bee4 53px,#b6c7e7 60px,#a8bde4 72px,#a0b6e1 80px,#94addd 88px,#87a3d9 93px,#8ba6da 104px,#88a4d9 111px,#83a0d8 121px,#7a99d5 129px,#7394d3 139px,#7797d4 145px,#5f87cd 154px,#6389ce 164px,#537ec9 184px,#5e86cc 206px,#507cc8 215px,#5e86cc 242px,#5680ca 253px,#5b84cb 266px,#5781ca 277px,#5b84cb 287px,#537ec9 297px,#5882ca 304px,#4e7bc7 314px,#4f7bc8 320px,#4f7cc8 345px,#4e7bc7 353px,#4574c3 383px,#4171c1 422px,#396bbc 431px,#3c6dbe 434px)"></i>
<i style="left:452px;background:linear-gradient(#c3d0eb 0,#d0daee 9px,#b6c7e8 19px,#b9c9e8 25px,#b0c3e6 32px,#afc3e6 46px,#9eb5e0 53px,#b4c6e7 59px,#9fb6e1 73px,#9cb3e0 80px,#8ea8db 88px,#83a0d8 92px,#89a5da 103px,#7f9dd7 109px,#7b9ad5 124px,#6b8fd0 138px,#7696d4 144px,#5e86cc 153px,#648ace 161px,#5781ca 183px,#5b84cb 206px,#4d7ac7 213px,#5781ca 226px,#5c84cc 246px,#537ec9 253px,#5a83cb 265px,#5881ca 276px,#5781ca 282px,#5983cb 287px,#517dc8 296px,#5a83cb 303px,#4977c5 314px,#4b78c6 321px,#4a78c6 336px,#537ec9 351px,#4a78c6 358px,#4c7ac7 363px,#4574c3 380px,#4372c2 421px,#3c6dbd 432px,#3d6ebe 434px)"></i>
<i style="left:454px;background:linear-gradient(#b9c9e8 0,#ccd7ed 9px,#afc2e6 20px,#b2c4e6 26px,#abbfe4 32px,#a4bae2 47px,#91abdc 53px,#acc0e5 60px,#98b0df 68px,#8fa9dc 86px,#7b9ad5 91px,#86a2d9 102px,#7696d4 109px,#7193d2 119px,#7897d4 124px,#6087cd 137px,#6f92d2 143px,#5b83cb 152px,#658bcf 159px,#5882ca 182px,#5580ca 205px,#4a78c6 213px,#527ec9 225px,#5781ca 237px,#547fc9 247px,#4e7bc7 254px,#537ec9 265px,#537ec9 271px,#517dc8 276px,#507cc8 282px,#517dc8 287px,#4c79c6 296px,#557fc9 304px,#4775c4 315px,#4e7bc7 344px,#4c79c7 351px,#4a78c6 359px,#4776c4 364px,#4070c0 424px,#3e6ebe 434px)"></i>
<i style="left:456px;background:linear-gradient(#afc2e6 0,#c6d2ec 9px,#aabee4 20px,#b0c3e6 26px,#a8bce3 32px,#99b1df 48px,#8aa5da 54px,#a1b7e1 60px,#8fa9db 67px,#8ba6da 86px,#7797d4 91px,#85a1d9 100px,#6f92d2 110px,#5f87cd 118px,#7696d4 124px,#5882ca 137px,#698dd0 143px,#5b84cb 152px,#688dcf 158px,#5b84cb 167px,#5d85cc 177px,#547fc9 202px,#4d7ac7 215px,#527dc8 238px,#547fc9 246px,#4d7ac7 254px,#4f7cc8 265px,#4e7bc7 271px,#4f7bc8 276px,#4e7bc7 283px,#4a78c6 297px,#527ec9 305px,#4876c5 317px,#4c79c7 344px,#4776c4 358px,#4876c5 363px,#4675c4 369px,#4977c5 374px,#4574c3 382px,#4070c0 434px)"></i>
<i style="left:458px;background:linear-gradient(#a7bce3 0,#becdea 9px,#abbfe4 20px,#b2c4e6 26px,#98b0de 45px,#86a2d9 54px,#9ab2df 60px,#89a5da 66px,#87a3d9 77px,#84a1d8 87px,#7b99d5 92px,#86a2d9 99px,#7193d2 108px,#5a83cb 118px,#7998d5 124px,#5680ca 136px,#678ccf 144px,#6389ce 152px,#6d90d1 157px,#5b84cb 167px,#658bce 177px,#6389ce 189px,#5a83cb 205px,#4e7bc7 222px,#527dc8 238px,#5982cb 245px,#527dc8 253px,#547fc9 265px,#537ec9 271px,#527dc8 277px,#4a78c6 297px,#5680ca 306px,#4b79c6 318px,#4e7bc7 345px,#4876c5 356px,#4d7ac7 362px,#4574c3 368px,#517dc8 373px,#4473c2 380px,#4372c2 426px,#4574c3 434px)"></i>
<i style="left:460px;background:linear-gradient(#9cb3e0 0,#b1c4e6 9px,#abbfe4 21px,#a5bae2 31px,#94addd 44px,#809dd7 54px,#92abdc 60px,#83a0d8 66px,#86a2d9 71px,#7c9ad6 81px,#7d9bd6 87px,#7d9bd6 93px,#809ed7 99px,#6d90d1 106px,#6389ce 113px,#5982cb 118px,#7797d4 124px,#5681ca 136px,#6389ce 143px,#6b8ed0 157px,#5882cb 168px,#688ccf 177px,#6087cd 188px,#5f86cd 199px,#5d85cc 204px,#6188cd 210px,#4a78c6 219px,#537ec9 226px,#4f7bc8 238px,#5882ca 244px,#527ec9 252px,#5982cb 264px,#4a78c6 299px,#557fc9 306px,#4c7ac7 320px,#4776c4 355px,#4978c6 363px,#4876c5 369px,#527dc8 373px,#4473c2 380px,#4574c3 391px,#4473c2 418px,#4775c4 434px)"></i>
<i style="left:462px;background:linear-gradient(#8fa9dc 0,#a2b8e2 9px,#9fb6e1 30px,#8da8db 44px,#7898d4 51px,#7e9cd6 56px,#8aa5da 61px,#7e9cd6 66px,#7c9bd6 71px,#6e91d1 79px,#7495d3 87px,#7998d5 98px,#648ace 106px,#6289ce 113px,#5882ca 117px,#7294d3 124px,#5881ca 136px,#5d85cc 143px,#698dd0 155px,#5680ca 169px,#668bcf 180px,#5a83cb 190px,#648ace 198px,#5e86cc 203px,#648ace 210px,#4977c5 218px,#5680ca 225px,#4c79c7 238px,#537ec9 245px,#547fc9 252px,#5d85cc 262px,#4f7bc7 281px,#4b79c6 302px,#4c7ac7 311px,#4574c3 354px,#4a78c6 370px,#4977c5 375px,#4675c4 382px,#4574c3 410px,#4675c4 434px)"></i>
<i style="left:464px;background:linear-gradient(#87a3d9 0,#98b0de 9px,#9bb3df 22px,#97afde 29px,#8ba6da 43px,#6d90d1 52px,#88a4d9 60px,#7b9ad5 67px,#7293d2 72px,#658bce 78px,#6e91d1 85px,#7394d3 97px,#5e86cc 107px,#658ace 112px,#5a83cb 117px,#6d90d1 124px,#5c85cc 138px,#5f86cd 148px,#688dcf 154px,#5d85cc 160px,#5982cb 166px,#5982cb 171px,#6288cd 182px,#5781ca 192px,#688ccf 198px,#6288cd 205px,#6389ce 210px,#4977c5 217px,#5781ca 225px,#4c79c6 239px,#5982cb 253px,#648ace 260px,#5882cb 266px,#527dc8 280px,#4977c5 285px,#4a78c6 296px,#4272c1 347px,#4a78c6 370px,#4675c4 383px,#4272c1 409px,#4574c3 434px)"></i>
<i style="left:466px;background:linear-gradient(#8aa5da 0,#98b0df 11px,#95aede 23px,#93acdd 29px,#94addd 38px,#7797d4 48px,#6d90d1 52px,#8aa5da 60px,#7e9cd6 68px,#668bcf 77px,#6f91d2 83px,#7495d3 91px,#698dd0 103px,#6188cd 108px,#688ccf 112px,#6188cd 117px,#6f92d2 123px,#688dd0 128px,#6d90d1 132px,#6188cd 138px,#688dcf 150px,#6a8ed0 154px,#6087cd 159px,#678ccf 164px,#5781ca 169px,#658bce 183px,#5b84cb 192px,#6e91d1 198px,#658bcf 208px,#4b79c6 218px,#5d85cc 224px,#5680ca 233px,#4c79c6 238px,#5f86cd 254px,#6d90d1 259px,#5a83cb 265px,#5680ca 280px,#4978c6 284px,#5680ca 290px,#4e7bc7 302px,#4a78c6 320px,#4977c6 326px,#4675c4 341px,#4574c3 366px,#4d7ac7 373px,#4675c4 389px,#4473c2 409px,#4775c4 434px)"></i>
<i style="left:468px;background:linear-gradient(#8da7db 0,#8fa9dc 6px,#92acdd 11px,#8aa5da 17px,#8da7db 23px,#89a5da 29px,#8ba6da 37px,#7e9cd6 43px,#7394d3 48px,#6a8ed0 52px,#819ed7 60px,#7b9ad5 68px,#6e91d1 73px,#658ace 77px,#6c8fd1 82px,#648ace 87px,#6e91d1 95px,#658bcf 104px,#5f86cd 108px,#6188cd 113px,#668bcf 118px,#6b8ed0 123px,#668bcf 128px,#6c8fd1 132px,#5e86cc 139px,#658ace 154px,#5f87cd 159px,#668bcf 164px,#527ec9 169px,#648ace 184px,#5982cb 192px,#698ed0 198px,#5d85cc 207px,#5781ca 212px,#4a78c6 218px,#5b84cb 224px,#547fc9 233px,#4977c5 239px,#557fc9 248px,#5781ca 254px,#698dd0 259px,#5680ca 265px,#557fc9 272px,#517dc8 280px,#4977c6 285px,#557fc9 290px,#4d7ac7 301px,#4977c5 320px,#4877c5 327px,#4877c5 340px,#4171c1 355px,#4776c4 368px,#4a78c6 373px,#4171c1 408px,#4372c2 415px,#4574c3 434px)"></i>
<i style="left:470px;background:linear-gradient(#91abdc 0,#85a1d9 5px,#8da7db 10px,#7c9bd6 16px,#87a3d9 23px,#819ed7 29px,#7c9ad6 37px,#7092d2 42px,#7595d3 47px,#6b8fd0 52px,#7898d4 61px,#7898d4 68px,#7696d4 72px,#658bcf 76px,#6f91d1 81px,#5c84cc 86px,#698dd0 95px,#668bcf 104px,#6087cd 109px,#658ace 117px,#6a8ed0 122px,#648ace 128px,#648ace 133px,#5c84cc 141px,#658bcf 147px,#6187cd 159px,#648ace 164px,#4e7bc7 169px,#5680ca 177px,#6087cd 185px,#5680ca 191px,#6288cd 199px,#557fc9 206px,#547fc9 212px,#4977c5 218px,#5b84cb 223px,#547fc9 231px,#4877c5 240px,#507cc8 248px,#4e7bc7 254px,#6087cd 259px,#537ec9 265px,#547fc9 270px,#4f7bc8 277px,#4b79c6 286px,#507cc8 292px,#4b78c6 300px,#4b79c6 305px,#4977c5 320px,#4776c4 341px,#4170c0 355px,#4876c5 369px,#4070c0 402px,#4372c2 415px,#4372c2 434px)"></i>
<i style="left:472px;background:linear-gradient(#92acdd 0,#7d9bd6 5px,#83a0d8 10px,#7394d3 16px,#85a1d8 22px,#7998d5 29px,#7394d3 35px,#648ace 41px,#7495d3 47px,#6f91d2 53px,#7394d3 67px,#7b9ad5 71px,#688ccf 76px,#7193d2 81px,#5882ca 86px,#658ace 96px,#658bce 104px,#5e85cc 115px,#6c90d1 120px,#6188cd 128px,#5882ca 141px,#668bcf 146px,#5c84cc 156px,#658ace 163px,#4c79c6 169px,#517dc8 176px,#5b83cb 185px,#5580ca 192px,#5c85cc 199px,#4d7ac7 205px,#557fc9 211px,#4877c5 218px,#5a83cb 223px,#4c79c7 230px,#4d7ac7 256px,#527dc8 261px,#527ec9 266px,#507cc8 270px,#4a78c6 276px,#4e7bc7 289px,#4977c5 300px,#4b79c6 305px,#4876c4 335px,#4372c1 356px,#4272c1 387px,#4675c4 411px,#4070c0 434px)"></i>
<i style="left:474px;background:linear-gradient(#91abdc 0,#7897d4 5px,#7e9cd6 10px,#6e91d1 15px,#88a4d9 22px,#7596d4 28px,#7495d3 33px,#6087cd 40px,#7998d5 47px,#7394d3 66px,#7f9dd7 71px,#6d90d1 76px,#7797d4 81px,#5f86cd 86px,#698dd0 98px,#6087cd 110px,#6087cd 115px,#7092d2 120px,#6187cd 134px,#5f86cc 142px,#668bcf 147px,#6288cd 156px,#6a8ed0 162px,#507cc8 169px,#537ec9 176px,#5781ca 186px,#6087cd 199px,#4f7bc7 205px,#5982cb 211px,#4b79c6 218px,#5a83cb 224px,#4b79c6 230px,#4d7ac7 264px,#5781ca 269px,#4a78c6 274px,#507cc8 281px,#527dc8 290px,#4c79c6 296px,#4f7bc7 301px,#4d7ac7 306px,#4675c4 332px,#4877c5 357px,#4272c1 370px,#4373c2 387px,#4473c2 417px,#3f6fbf 434px)"></i>
<i style="left:476px;background:linear-gradient(#88a4da 0,#7193d2 5px,#7898d4 10px,#6b8fd0 15px,#89a4da 22px,#7294d3 28px,#7092d2 33px,#6187cd 40px,#7b9ad5 47px,#7495d3 66px,#7f9dd7 71px,#6f91d1 76px,#7998d5 81px,#668bcf 87px,#6c8fd1 98px,#5e86cc 114px,#7192d2 121px,#6288cd 133px,#648ace 139px,#678ccf 156px,#6e91d1 161px,#547fc9 169px,#5d85cc 191px,#668bcf 199px,#527dc8 205px,#5c84cc 212px,#4f7bc7 219px,#5882ca 224px,#4c79c7 230px,#537ec9 241px,#527dc9 248px,#527ec9 253px,#4877c5 259px,#517dc8 265px,#5b84cb 269px,#4b79c6 274px,#547fc9 281px,#527dc8 289px,#5680ca 294px,#4a78c6 299px,#517dc8 305px,#4876c5 315px,#4977c5 347px,#4877c5 352px,#4a78c6 361px,#3d6dbe 369px,#4473c2 386px,#4473c2 418px,#3f6fbf 427px,#3d6ebe 434px)"></i>
<i style="left:478px;background:linear-gradient(#7697d4 0,#648ace 5px,#6a8ed0 10px,#6289ce 15px,#7d9bd6 22px,#678ccf 28px,#6188cd 34px,#5a83cb 40px,#7394d3 48px,#6b8fd1 61px,#7092d2 67px,#7293d2 72px,#688ccf 77px,#6f92d2 81px,#658ace 87px,#6288cd 100px,#5982cb 108px,#6087cd 116px,#6d90d1 125px,#5a83cb 132px,#648ace 139px,#6389ce 156px,#658bcf 163px,#507cc8 170px,#5983cb 191px,#648ace 199px,#4e7bc7 204px,#5680ca 213px,#4977c6 219px,#4977c5 227px,#4c79c7 241px,#4b79c6 248px,#517dc8 252px,#4372c2 259px,#4f7cc8 266px,#5580ca 269px,#4776c4 274px,#4a78c6 284px,#4d7ac7 295px,#4a78c6 302px,#4373c2 333px,#4574c3 346px,#4775c4 352px,#4271c1 363px,#3769ba 370px,#4070c0 385px,#3f6fbf 395px,#3d6ebe 419px,#3b6cbd 427px,#3869bb 434px)"></i>
<i style="left:480px;background:linear-gradient(#7092d2 0,#5f87cd 5px,#648ace 16px,#7897d4 22px,#6389ce 29px,#5c84cc 41px,#6e91d1 48px,#7394d3 54px,#7193d2 59px,#668bcf 64px,#6d90d1 72px,#698dd0 78px,#5e86cc 99px,#5580ca 106px,#668bcf 121px,#6f92d2 125px,#5c84cc 132px,#668bcf 140px,#648ace 156px,#6289ce 165px,#537ec9 170px,#5b84cb 191px,#6a8ed0 198px,#517dc8 205px,#557fc9 214px,#4a78c6 221px,#4a78c6 241px,#4a78c6 249px,#4d7ac7 253px,#4473c2 260px,#537ec9 269px,#4675c3 274px,#4b79c6 295px,#4272c1 333px,#4171c0 345px,#4675c4 352px,#3e6ebf 364px,#3668ba 370px,#3f6fbf 384px,#3d6dbe 395px,#3d6ebe 418px,#386abb 426px,#3668ba 434px)"></i>
<i style="left:482px;background:linear-gradient(#6c8fd1 0,#5d85cc 5px,#688ccf 19px,#7495d3 23px,#5f86cd 29px,#5a83cb 42px,#6d90d1 53px,#7696d4 57px,#6087cd 64px,#698dd0 72px,#6289ce 82px,#648ace 87px,#537ec9 105px,#658ace 115px,#5e86cc 120px,#6e91d1 125px,#5b83cb 133px,#6289ce 141px,#6289ce 147px,#6389ce 165px,#5781ca 170px,#5c84cc 192px,#6c8fd1 198px,#537ec9 204px,#4f7bc7 215px,#4977c5 227px,#4574c3 244px,#4c7ac7 266px,#4675c4 280px,#4675c4 298px,#3e6fbf 345px,#4473c2 353px,#3d6ebe 364px,#386abb 371px,#3c6dbd 385px,#3b6cbd 418px,#3567b9 434px)"></i>
<i style="left:484px;background:linear-gradient(#6e91d1 0,#6389ce 6px,#668bcf 19px,#7696d4 23px,#6289ce 30px,#5f87cd 48px,#7998d5 57px,#5d85cc 64px,#6d90d1 72px,#678ccf 81px,#5f87cd 85px,#678ccf 89px,#5a83cb 95px,#5882ca 101px,#5b84cb 105px,#6d90d1 113px,#5d85cc 119px,#6f92d2 125px,#5b84cb 135px,#6389ce 141px,#6289ce 146px,#678ccf 152px,#6087cd 159px,#678ccf 165px,#5c84cc 178px,#6188cd 185px,#5a83cb 191px,#6f91d2 197px,#5781ca 205px,#4a78c6 220px,#4b79c6 242px,#4a78c6 253px,#4776c4 271px,#4c79c7 285px,#4675c4 315px,#3e6fbf 345px,#4775c4 359px,#3c6cbd 370px,#3f6fbf 384px,#3c6dbd 396px,#3d6dbe 413px,#3869bb 434px)"></i>
<i style="left:486px;background:linear-gradient(#7294d3 0,#6e90d1 6px,#6c90d1 16px,#6f91d2 20px,#7a99d5 24px,#6d90d1 30px,#6188cd 48px,#7e9cd6 57px,#5f87cd 64px,#7998d5 71px,#6d90d1 81px,#678ccf 85px,#6e90d1 89px,#5e86cc 95px,#678ccf 104px,#7897d4 110px,#6f91d2 115px,#6289ce 119px,#7293d3 126px,#5e86cc 135px,#678ccf 141px,#688ccf 146px,#6c90d1 151px,#648ace 159px,#7092d2 166px,#648ace 174px,#648ace 179px,#668bcf 185px,#5e86cc 191px,#7495d3 197px,#5d85cc 205px,#5781ca 214px,#4e7bc7 219px,#5680ca 226px,#4a78c6 247px,#5680ca 264px,#4876c5 277px,#507cc8 284px,#517dc8 302px,#4776c4 312px,#507cc8 317px,#4876c5 324px,#4171c1 345px,#4977c5 361px,#4171c1 369px,#4171c0 385px,#4070c0 413px,#3c6dbe 434px)"></i>
<i style="left:488px;background:linear-gradient(#688ccf 0,#688dd0 6px,#6c8fd1 15px,#658ace 20px,#6c8fd1 26px,#668bcf 38px,#6188cd 43px,#5881ca 47px,#7495d3 56px,#668bcf 60px,#547fc9 64px,#7495d3 71px,#6389ce 85px,#688dcf 89px,#5781ca 95px,#688dcf 104px,#7797d4 109px,#5b84cb 119px,#658ace 128px,#547fc9 135px,#5f86cd 141px,#6389ce 150px,#5882ca 158px,#6c90d1 168px,#5781ca 178px,#5a83cb 185px,#5781ca 192px,#698dd0 197px,#5580c9 206px,#537ec9 214px,#4a78c6 219px,#4e7ac7 235px,#4c79c7 253px,#4e7bc7 265px,#4373c2 280px,#4f7cc8 294px,#4775c4 307px,#4877c5 314px,#4876c5 319px,#3e6fbf 343px,#4473c2 362px,#4070c0 369px,#3d6ebe 413px,#3b6cbd 434px)"></i>
<i style="left:490px;background:linear-gradient(#6288cd 0,#6b8fd0 16px,#6188cd 21px,#678ccf 33px,#688ccf 42px,#5983cb 47px,#7092d2 55px,#688ccf 59px,#507cc8 63px,#5b84cb 67px,#6d90d1 71px,#648ace 79px,#668bcf 90px,#547fc9 96px,#648ace 103px,#7797d4 108px,#5982cb 120px,#5c85cc 129px,#527ec9 135px,#6389ce 149px,#537ec9 157px,#6c8fd1 168px,#517dc8 178px,#547fc9 192px,#6288cd 197px,#547fc9 208px,#5680ca 214px,#4b79c6 221px,#4b79c6 236px,#4876c5 246px,#4e7bc7 259px,#4473c3 282px,#4c7ac7 304px,#4473c3 313px,#4574c3 326px,#4070c0 343px,#4372c2 362px,#4070c0 369px,#3f6fbf 421px,#3a6bbc 434px)"></i>
<i style="left:492px;background:linear-gradient(#6288cd 0,#6e90d1 12px,#7293d2 16px,#6188cd 22px,#698dd0 34px,#6d90d1 42px,#648ace 48px,#7193d2 56px,#5c84cc 61px,#507cc8 65px,#648ace 72px,#6389ce 82px,#6d90d1 89px,#527dc8 97px,#5d85cc 102px,#7797d4 108px,#5781ca 123px,#5c84cc 130px,#5b84cb 141px,#6a8ed0 148px,#557fc9 157px,#6e91d1 167px,#507cc8 178px,#5781ca 193px,#5d85cc 214px,#4a78c6 225px,#527ec9 235px,#4473c2 240px,#5580c9 252px,#5680ca 257px,#4d7ac7 262px,#4b79c6 267px,#4776c4 283px,#4c7ac7 305px,#4674c3 314px,#4473c2 349px,#4070c0 364px,#4070c0 407px,#396abc 434px)"></i>
<i style="left:494px;background:linear-gradient(#6188cd 0,#6f91d2 12px,#7495d3 16px,#6087cd 23px,#6c8fd1 42px,#6d90d1 52px,#6f91d2 58px,#4f7bc8 64px,#5983cb 74px,#6389ce 83px,#6c8fd1 89px,#4a78c6 98px,#5580ca 102px,#7092d2 108px,#547fc9 124px,#6087cd 130px,#5781ca 141px,#6a8ed0 147px,#5882ca 158px,#6e91d1 166px,#4e7bc7 177px,#5680ca 201px,#6087cd 213px,#4977c5 225px,#527ec9 235px,#4272c1 240px,#5881ca 252px,#5b84cb 256px,#4a78c6 261px,#4c7ac7 267px,#4977c6 285px,#4574c3 310px,#4373c2 356px,#4372c2 378px,#4372c1 397px,#3d6dbe 427px,#3768ba 434px)"></i>
<i style="left:496px;background:linear-gradient(#6389ce 0,#7294d3 16px,#5f86cc 24px,#698ed0 41px,#6b8fd0 48px,#6a8ed0 53px,#7294d3 58px,#4c79c7 65px,#537ec9 74px,#5c85cc 82px,#6a8ed0 87px,#5a83cb 93px,#4675c4 98px,#5680ca 103px,#698dd0 108px,#5983cb 120px,#537ec9 124px,#648ace 130px,#537ec9 141px,#668bcf 147px,#658ace 154px,#5c85cc 159px,#6d90d1 165px,#4d7ac7 177px,#4c7ac7 200px,#5f86cc 207px,#5680ca 217px,#4776c4 225px,#517dc8 234px,#4272c1 240px,#5c84cc 255px,#4876c5 261px,#4977c5 278px,#4373c2 347px,#4373c2 378px,#4271c1 385px,#4171c0 397px,#3b6cbd 408px,#3668ba 434px)"></i>
<i style="left:498px;background:linear-gradient(#658bcf 0,#6f91d2 15px,#5e86cc 27px,#668bcf 40px,#7092d2 47px,#6187cd 51px,#7596d4 58px,#4f7bc8 65px,#527ec9 73px,#547fc9 80px,#658ace 87px,#4f7cc8 94px,#4574c3 99px,#6289ce 107px,#6087cd 115px,#5a83cb 120px,#547fc9 124px,#668bcf 130px,#527ec9 138px,#507cc8 141px,#6389ce 147px,#668bcf 154px,#5c84cc 159px,#6b8fd0 165px,#4e7bc7 177px,#4977c5 200px,#5c84cc 208px,#4a78c6 221px,#4876c5 236px,#4977c5 243px,#547fc9 256px,#4675c4 261px,#4876c5 280px,#4776c4 300px,#4372c1 332px,#3e6ebe 353px,#4675c4 379px,#396abb 400px,#386abb 434px)"></i>
<i style="left:500px;background:linear-gradient(#6a8ed0 0,#7193d2 9px,#658ace 28px,#6b8fd0 42px,#7797d4 46px,#6188cd 51px,#7b9ad5 58px,#5a83cb 65px,#5781ca 73px,#5882ca 81px,#648ace 87px,#4776c4 98px,#6289ce 106px,#6087cd 114px,#6389ce 119px,#5881ca 123px,#6b8fd0 129px,#5680ca 138px,#5781ca 142px,#668bcf 147px,#688dcf 154px,#5d85cc 159px,#6b8fd0 165px,#537ec9 179px,#4977c5 194px,#537ec9 202px,#5680ca 216px,#4a78c6 227px,#4b78c6 241px,#507cc8 246px,#507cc8 256px,#4775c4 263px,#4c7ac7 278px,#4574c3 297px,#4473c2 314px,#4271c1 340px,#3e6fbf 352px,#4876c5 379px,#3a6bbc 409px,#4070c0 434px)"></i>
<i style="left:502px;background:linear-gradient(#6188cd 0,#678ccf 5px,#688dcf 10px,#5b84cb 34px,#6a8ed0 43px,#6b8fd0 47px,#5882ca 51px,#7595d3 58px,#5a83cb 67px,#517dc8 80px,#5b84cb 87px,#4675c4 97px,#5b83cb 106px,#5a83cb 115px,#5a83cb 120px,#557fc9 124px,#6389ce 129px,#517dc8 141px,#6288cd 147px,#5c84cb 155px,#5580ca 160px,#5d85cc 166px,#4372c1 192px,#4b79c6 210px,#4a78c6 241px,#4c79c6 246px,#4372c2 264px,#4372c2 289px,#4272c1 314px,#3e6ebf 350px,#396abb 358px,#4271c1 383px,#3768ba 409px,#3c6dbe 430px,#4473c2 434px)"></i>
<i style="left:504px;background:linear-gradient(#5e85cc 0,#688ccf 9px,#5c84cc 32px,#5882ca 37px,#6a8ed0 45px,#5580ca 51px,#7394d3 58px,#547fc9 73px,#537ec9 83px,#557fc9 88px,#4a78c5 95px,#5982cb 105px,#5781ca 121px,#5580c9 125px,#5b84cb 131px,#5580ca 141px,#6187cd 147px,#5580ca 156px,#557fc9 162px,#4e7bc7 178px,#4272c1 193px,#4675c4 205px,#4b79c6 242px,#4272c1 265px,#4272c1 314px,#3d6dbe 350px,#396abb 358px,#4171c1 383px,#386abb 401px,#3a6bbc 422px,#3a6bbc 429px,#4675c4 434px)"></i>
<i style="left:506px;background:linear-gradient(#648ace 0,#6f91d2 9px,#668bcf 31px,#5c84cc 36px,#7193d2 42px,#5d85cc 51px,#7898d4 59px,#6188cd 71px,#5882cb 83px,#5d85cc 88px,#5580ca 93px,#5e86cc 105px,#6389ce 119px,#5882ca 126px,#6389ce 148px,#5983cb 157px,#5b83cb 177px,#4a78c6 183px,#4977c5 196px,#4977c5 205px,#4d7ac7 241px,#557fc9 246px,#4473c2 258px,#4977c5 284px,#4a78c6 290px,#4877c5 325px,#3e6ebf 358px,#4776c4 382px,#3c6dbe 400px,#3f6fbf 413px,#4272c1 421px,#3a6bbc 428px,#4876c5 434px)"></i>
<i style="left:508px;background:linear-gradient(#5e86cc 0,#6c8fd1 9px,#6389ce 31px,#5882ca 36px,#6c90d1 42px,#5a83cb 50px,#7092d2 59px,#6087cd 69px,#507cc8 82px,#5b84cb 88px,#5982cb 93px,#5e85cc 99px,#5882ca 108px,#6a8ed0 114px,#4e7bc7 127px,#5d85cc 144px,#5982cb 152px,#5680ca 170px,#5781ca 178px,#4877c5 183px,#4a78c6 241px,#537ec9 247px,#4271c1 260px,#4876c5 284px,#4d7ac7 289px,#4473c2 324px,#4474c3 332px,#4070c0 359px,#4776c4 382px,#3d6ebe 400px,#3d6dbe 413px,#4674c3 420px,#3668ba 427px,#4171c1 434px)"></i>
<i style="left:510px;background:linear-gradient(#5b84cb 0,#6a8ed0 9px,#6188cd 31px,#5882ca 36px,#668bcf 42px,#5680ca 48px,#6a8ed0 57px,#5c84cc 67px,#5a83cb 76px,#4b79c6 82px,#5b83cb 88px,#5b84cb 93px,#6389ce 97px,#4f7bc8 106px,#5c84cc 110px,#6f91d2 114px,#547fc9 122px,#4876c5 127px,#5781ca 143px,#4e7bc7 151px,#547fc9 156px,#4f7cc8 168px,#5882ca 178px,#4977c5 183px,#4674c3 212px,#4c7ac7 243px,#557fc9 250px,#4271c1 258px,#4473c3 279px,#4a78c6 286px,#4473c2 326px,#4272c1 333px,#3d6dbe 349px,#4775c4 382px,#3e6ebf 400px,#3b6cbd 413px,#4675c4 419px,#3668b9 428px,#3b6cbd 434px)"></i>
<i style="left:512px;background:linear-gradient(#5c84cc 0,#648ace 5px,#678ccf 10px,#6087cd 27px,#6087cd 37px,#648ace 42px,#5580ca 48px,#698dd0 55px,#5982cb 66px,#5f87cd 75px,#4b78c6 82px,#5b84cb 88px,#5d85cc 93px,#648ace 97px,#4e7ac7 104px,#4f7bc7 109px,#7092d2 114px,#6a8ed0 118px,#4977c5 125px,#507cc8 138px,#547fc9 143px,#4b78c6 151px,#507cc8 157px,#4d7ac7 168px,#5982cb 178px,#4b78c6 183px,#4e7bc7 188px,#4775c4 201px,#4977c5 210px,#4272c1 217px,#4876c5 234px,#517dc8 245px,#5c84cc 250px,#4373c2 257px,#4776c4 278px,#4674c3 285px,#4776c4 292px,#4876c5 310px,#4171c1 326px,#4272c1 333px,#3b6cbd 345px,#4574c3 369px,#3b6cbd 414px,#4473c2 420px,#3668ba 429px,#3869bb 434px)"></i>
<i style="left:514px;background:linear-gradient(#5983cb 0,#5c84cc 5px,#5f86cd 10px,#547fc9 28px,#5f86cc 41px,#4d7ac7 47px,#5f86cd 55px,#517dc8 66px,#5881ca 76px,#4877c5 82px,#537ec9 88px,#537ec9 93px,#5781ca 98px,#4775c4 104px,#4877c5 110px,#668bcf 115px,#6087cd 119px,#4776c4 125px,#4977c5 138px,#4a78c6 146px,#4977c5 172px,#4e7ac7 179px,#4c7ac7 185px,#4373c2 201px,#4373c2 211px,#4070c0 217px,#4473c2 224px,#4a78c5 246px,#547fc9 251px,#4171c1 257px,#4674c3 274px,#4070c0 285px,#4271c1 295px,#4070c0 316px,#3f6fbf 329px,#396abb 349px,#3b6cbd 397px,#3869bb 415px,#3e6ebe 421px,#3265b7 433px,#3265b7 434px)"></i>
<i style="left:516px;background:linear-gradient(#6188cd 0,#6087cd 6px,#547fc9 22px,#4f7bc8 28px,#648ace 39px,#527dc9 48px,#5b84cb 55px,#537ec9 66px,#5681ca 77px,#4d7ac7 83px,#507cc8 89px,#5680ca 95px,#537ec9 99px,#4372c2 108px,#4c79c7 112px,#6389ce 116px,#5781ca 121px,#4373c2 130px,#4c79c6 147px,#4775c4 154px,#4a78c6 174px,#4e7bc7 188px,#3f6fbf 196px,#4675c3 209px,#4271c1 217px,#4674c3 224px,#4876c5 247px,#517dc8 251px,#4272c1 259px,#4372c2 273px,#4170c0 286px,#3c6dbd 323px,#3769bb 363px,#3869bb 410px,#396abc 416px,#3b6cbd 422px,#3163b6 434px)"></i>
<i style="left:518px;background:linear-gradient(#7293d3 0,#6b8ed0 9px,#648ace 20px,#517dc8 27px,#6c8fd1 39px,#6087cd 48px,#5b84cb 57px,#5c84cc 65px,#5b84cb 79px,#5882ca 93px,#5f87cd 98px,#4876c5 107px,#4d7ac7 112px,#698dd0 117px,#4574c3 132px,#5680ca 147px,#4876c5 153px,#547fc9 160px,#4876c4 167px,#5680ca 188px,#4171c0 194px,#4b79c6 208px,#4675c3 216px,#527dc8 222px,#4574c3 230px,#4a78c6 248px,#507cc8 252px,#4372c2 263px,#4372c1 281px,#4271c1 296px,#3e6ebf 325px,#3c6dbd 362px,#3b6cbd 370px,#3e6ebe 416px,#3d6dbe 423px,#3265b7 434px)"></i>
<i style="left:520px;background:linear-gradient(#7c9ad6 0,#6c8fd1 8px,#7495d3 15px,#537ec9 28px,#6d90d1 41px,#5f87cd 54px,#5a83cb 63px,#6288cd 69px,#6087cd 79px,#5c84cc 85px,#6087cd 94px,#6389ce 98px,#527ec9 104px,#4977c5 111px,#668bcf 117px,#4e7ac7 127px,#4775c4 133px,#5982cb 147px,#4977c5 153px,#5b83cb 160px,#4876c5 167px,#5882ca 187px,#4171c0 195px,#4e7bc7 208px,#4776c4 215px,#5882ca 222px,#4574c3 230px,#4876c5 249px,#4574c3 275px,#4473c2 295px,#3f6fbf 317px,#4070c0 325px,#3e6fbf 361px,#3869bb 369px,#3d6dbe 378px,#3f6fbf 415px,#4070c0 421px,#3164b7 434px)"></i>
<i style="left:522px;background:linear-gradient(#7f9dd7 0,#698ed0 8px,#7696d4 14px,#517dc8 29px,#6d90d1 43px,#6289ce 52px,#5580ca 58px,#6389ce 68px,#648ace 75px,#5d85cc 80px,#5680ca 85px,#648ace 97px,#537ec9 103px,#4d7ac7 108px,#4a78c6 112px,#6087cd 117px,#4f7cc8 126px,#4574c3 132px,#537ec9 149px,#4a78c6 155px,#5b84cb 160px,#4675c4 167px,#537ec9 181px,#4c79c6 190px,#4272c1 197px,#4f7bc8 208px,#4876c5 215px,#5781ca 223px,#4574c3 230px,#4574c3 286px,#4070c0 296px,#4070c0 318px,#3e6fbf 360px,#3567b9 369px,#3f6fbf 378px,#386abb 395px,#4070c0 420px,#3567b9 431px,#3063b6 434px)"></i>
<i style="left:524px;background:linear-gradient(#7898d5 0,#658bcf 8px,#7092d2 13px,#4e7ac7 31px,#5982cb 37px,#6b8fd0 42px,#6389ce 51px,#527ec9 56px,#6188cd 67px,#5e86cc 73px,#648ace 78px,#4c79c7 84px,#5d85cc 94px,#547fc9 99px,#507cc8 103px,#507cc8 107px,#4876c5 112px,#5a83cb 117px,#4574c3 132px,#4c7ac7 151px,#4e7bc7 157px,#557fc9 162px,#4574c3 168px,#517dc8 175px,#4372c2 193px,#4876c5 202px,#4e7bc7 208px,#4877c5 216px,#507cc8 224px,#4170c0 239px,#4171c1 266px,#4372c2 294px,#3b6cbc 311px,#3d6ebe 342px,#3c6cbd 360px,#3365b8 369px,#3f6fbf 379px,#3769ba 395px,#3b6cbd 420px,#3a6bbc 426px,#3063b6 434px)"></i>
<i style="left:526px;background:linear-gradient(#6f91d2 0,#648ace 8px,#698dd0 13px,#5d85cc 19px,#5d85cc 25px,#4b79c6 34px,#6c90d1 42px,#6a8ed0 50px,#5680ca 56px,#6288ce 67px,#5d85cc 73px,#668bcf 78px,#4978c6 84px,#5a83cb 92px,#4d7ac7 102px,#537ec9 106px,#4776c4 111px,#5c85cc 117px,#4776c4 133px,#517dc8 157px,#5781ca 162px,#4675c4 168px,#5881ca 174px,#4977c5 181px,#4574c3 193px,#4574c3 201px,#547fc9 207px,#4877c5 216px,#4473c2 237px,#3f6fbf 257px,#4372c1 266px,#4372c2 295px,#3d6dbe 313px,#4171c0 330px,#4070c0 354px,#3467b9 369px,#4171c1 380px,#396bbc 395px,#3b6cbd 403px,#3768ba 421px,#3b6cbd 430px,#3365b8 434px)"></i>
<i style="left:528px;background:linear-gradient(#658bcf 0,#658bcf 9px,#648ace 13px,#5982cb 18px,#6188cd 26px,#4b79c6 34px,#6e91d1 42px,#7294d3 50px,#5e86cc 56px,#658ace 67px,#5d85cc 73px,#668bcf 78px,#4a78c6 84px,#5b83cb 91px,#4c79c7 101px,#527dc8 106px,#4977c6 111px,#6389ce 117px,#4f7bc7 130px,#4f7bc7 140px,#4d7ac7 149px,#5d85cc 162px,#4b78c6 168px,#5f87cd 174px,#4877c5 180px,#4e7bc7 191px,#4473c2 200px,#5b84cb 207px,#4977c6 219px,#4776c4 237px,#4876c5 249px,#4373c2 265px,#4675c3 272px,#4372c2 297px,#3f6fbf 314px,#3f6fbf 328px,#3e6ebe 344px,#3c6dbe 360px,#3d6dbe 371px,#4272c1 383px,#3c6dbe 395px,#4170c0 402px,#3869bb 424px,#4170c0 430px,#396abb 434px)"></i>
<i style="left:530px;background:linear-gradient(#5b84cb 0,#5a83cb 13px,#537ec9 18px,#5c85cc 28px,#4a78c6 34px,#678ccf 42px,#7897d4 49px,#5e86cc 58px,#6389ce 67px,#5983cb 73px,#5f86cc 78px,#4877c5 83px,#5781ca 91px,#4a78c6 102px,#4d7ac7 112px,#6289ce 117px,#4c7ac7 127px,#517dc8 143px,#4977c5 149px,#5f87cd 160px,#4e7bc7 169px,#5a83cb 175px,#4776c4 180px,#4a78c6 192px,#4574c3 201px,#5a83cb 207px,#4574c3 222px,#4675c4 239px,#4977c6 250px,#4473c2 265px,#4675c4 273px,#4271c1 297px,#3d6dbe 313px,#3f6fbf 371px,#3f6fbf 385px,#3d6ebe 396px,#3f70c0 403px,#386abb 424px,#4272c1 430px,#3c6cbd 434px)"></i>
<i style="left:532px;background:linear-gradient(#5b84cb 0,#5580ca 20px,#5c84cc 29px,#4b79c6 35px,#7293d2 47px,#7596d4 51px,#5a83cb 59px,#6188cd 68px,#537ec9 79px,#4877c5 84px,#5982cb 90px,#4877c5 102px,#4e7bc7 112px,#5c84cc 118px,#4877c5 126px,#547fc9 143px,#4776c4 148px,#5f86cd 160px,#4c7ac7 171px,#507cc8 176px,#4977c5 183px,#4775c4 193px,#4b78c6 203px,#5881ca 208px,#4272c1 222px,#4574c3 242px,#4775c4 255px,#4675c3 266px,#4978c6 281px,#4473c3 292px,#3f6fbf 301px,#3d6dbe 307px,#3d6ebe 313px,#3f6fbf 369px,#3e6ebe 385px,#3a6bbc 394px,#3f6fbf 403px,#3769ba 423px,#4171c1 430px,#3c6cbd 434px)"></i>
<i style="left:534px;background:linear-gradient(#688dcf 0,#5680ca 13px,#5b84cb 21px,#6389ce 26px,#5f86cd 30px,#507cc8 36px,#658ace 45px,#7998d5 50px,#6188cd 56px,#5580c9 60px,#678ccf 68px,#4a78c6 83px,#6188cd 90px,#4a78c6 101px,#527dc8 110px,#557fc9 119px,#4977c5 126px,#5d85cc 139px,#507cc8 145px,#4a78c6 149px,#6087cd 159px,#5681ca 167px,#4876c4 172px,#4c79c7 190px,#4977c5 200px,#5882ca 208px,#4574c3 219px,#4b79c6 236px,#4574c3 256px,#4a78c6 280px,#4776c4 285px,#3e6ebf 296px,#4070c0 301px,#4271c1 306px,#3d6ebe 311px,#4170c0 322px,#3f6fbf 351px,#4271c1 368px,#386abb 388px,#3f6fbf 404px,#3e6ebe 426px,#3b6cbd 434px)"></i>
<i style="left:536px;background:linear-gradient(#7897d4 0,#5680ca 11px,#688dcf 19px,#6288ce 24px,#6c8fd1 28px,#517dc8 37px,#6389ce 45px,#7696d4 50px,#648ace 55px,#4f7bc8 59px,#5e85cc 64px,#6c8fd1 69px,#5b84cb 75px,#4a78c6 80px,#5c84cc 87px,#6a8ed0 91px,#4c79c7 99px,#5881ca 109px,#5681ca 114px,#4877c5 125px,#5781ca 134px,#6389ce 138px,#4a78c6 148px,#5882ca 156px,#5b83cb 160px,#5781ca 167px,#4372c2 172px,#5580c9 185px,#4775c4 195px,#507cc8 201px,#5680ca 209px,#4574c3 217px,#4c79c6 236px,#4e7bc7 242px,#4473c2 265px,#4876c5 279px,#4f7cc8 283px,#4473c2 291px,#3a6bbc 299px,#4574c3 305px,#3f6fbf 310px,#4775c4 316px,#3d6dbe 335px,#4171c1 360px,#4170c0 366px,#4473c2 373px,#396abc 394px,#4171c0 404px,#3e6ebf 427px,#396bbc 434px)"></i>
<i style="left:538px;background:linear-gradient(#86a2d9 0,#5a83cb 11px,#7293d2 18px,#6a8ed0 24px,#7394d3 28px,#537ec9 38px,#7696d4 51px,#5c84cc 56px,#4d7ac7 60px,#7394d3 69px,#648ace 74px,#4b78c6 78px,#5b84cb 86px,#7394d3 91px,#517dc8 99px,#5982cb 105px,#6389ce 112px,#4977c5 122px,#5680ca 133px,#6a8ed0 138px,#4d7ac7 148px,#517dc8 155px,#5c85cc 159px,#5982cb 164px,#5982cb 167px,#4272c1 172px,#4f7cc8 178px,#5d85cc 184px,#4675c4 194px,#5b84cb 200px,#5781ca 205px,#5680ca 210px,#4675c3 217px,#4d7ac7 236px,#547fc9 243px,#4776c4 254px,#4675c4 266px,#4776c4 278px,#547fc9 283px,#4574c3 290px,#3c6dbe 296px,#3f6fbf 300px,#4775c4 305px,#4272c1 310px,#4e7bc7 315px,#3e6ebe 333px,#4574c3 360px,#4070c0 365px,#4877c5 372px,#3d6dbe 382px,#3c6cbd 395px,#4372c2 405px,#3a6bbc 434px)"></i>
</div>
<svg width="1729" height="609" viewBox="0 0 1729 609">
<defs>
<linearGradient id="cbar" x1="0" y1="0" x2="1" y2="0">
<stop offset="0" stop-color="#f24426"/><stop offset="0.12" stop-color="#f04a2c"/>
<stop offset="0.45" stop-color="#f0604a"/><stop offset="0.5" stop-color="#f06a52"/>
<stop offset="0.62" stop-color="#f5805c"/><stop offset="0.7" stop-color="#f69470"/>
<stop offset="0.78" stop-color="#f7b49c"/><stop offset="0.84" stop-color="#f3d6d2"/>
<stop offset="0.875" stop-color="#ebe6f0"/><stop offset="0.888" stop-color="#dfe4f2"/>
<stop offset="0.905" stop-color="#8eaee0"/><stop offset="0.925" stop-color="#3c6cbe"/>
<stop offset="0.96" stop-color="#1f4e9e"/><stop offset="0.985" stop-color="#16306a"/>
<stop offset="1" stop-color="#0e1a40"/>
</linearGradient>
<filter id="soft" x="-2%" y="-2%" width="104%" height="104%"><feGaussianBlur stdDeviation="0.9"/></filter>
<clipPath id="clipA"><rect class="keep" x="0" y="0" width="982.5" height="609"/></clipPath>
</defs>
<g>

<!-- panel labels -->
<text x="33.5" y="56" font-size="42" fill="#000">(a)</text>
<text x="1027" y="56" font-size="42" fill="#000">(b)</text>

<!-- ============ panel (a) ============ -->
<g clip-path="url(#clipA)">
<!-- inset -->
<g id="inset" filter="url(#soft)">
<rect x="500" y="243.5" width="431" height="212.5" fill="#a0d5bd"/>
<rect x="500" y="243.5" width="431" height="50" fill="#6c7977"/>
<rect x="500" y="410.5" width="431" height="45.5" fill="#6d7876"/>
<rect x="500" y="291" width="431" height="4" fill="#6b5b80" opacity="0.75"/>
<rect x="500" y="408.5" width="431" height="3" fill="#6b5b80" opacity="0.6"/>
<!-- top electrodes (yellow) -->
<polygon points="577,244 644,244 669,281 618,281" fill="#e3f1a4"/>
<polygon points="679,244 725,244 723,281 681,281" fill="#e1f0a2"/>
<polygon points="743,244 812,244 787,281 740,281" fill="#e2f1a3"/>
<!-- cyan -->
<polygon points="618,281 669,281 667,295 627,295" fill="#33c4d2"/>
<polygon points="681,281 723,281 721,295 684,295" fill="#33c4d2"/>
<polygon points="740,281 787,281 786,295 742,295" fill="#33c4d2"/>
<polygon points="623,291 667,291 667,296 627,296" fill="#2a4aa0" opacity="0.6"/>
<polygon points="684,291 721,291 720,296 686,296" fill="#2a4aa0" opacity="0.6"/>
<polygon points="742,291 786,291 786,296 742,296" fill="#2a4aa0" opacity="0.6"/>
<!-- dark channels -->
<g fill="#3b1848">
<polygon points="626,295 667,295 678,326 696,352 702,364 688,367 670,340 647,317"/>
<polygon points="686,295 720,295 710,328 705,350 699,356 694,338"/>
<polygon points="740,295 787,295 787,330 768,341 726,359 710,354 722,330"/>
<polygon points="688,350 712,348 728,360 722,378 706,385 690,372"/>
<polygon points="718,361 790,357 846,410 812,410 793,394 714,374"/>
<polygon points="710,378 756,393 784,410 742,410 735,400 704,386"/>
<polygon points="686,364 706,372 712,395 716,410 675,410 670,396 680,378"/>
</g>
<!-- bottom cyan / yellow -->
<polygon points="675,410 715,410 717,427 674,427" fill="#32bfce"/>
<polygon points="740,410 784,410 790,427 741,427" fill="#32bfce"/>
<polygon points="812,410 851,410 858,427 820,427" fill="#32bfce"/>
<polygon points="675,410 715,410 715,414 675,414" fill="#2040a0" opacity="0.7"/>
<polygon points="740,410 784,410 785,414 740,414" fill="#2040a0" opacity="0.7"/>
<polygon points="812,410 851,410 853,414 813,414" fill="#2040a0" opacity="0.7"/>
<polygon points="674,427 717,427 721,456 676,456" fill="#e1f0a2"/>
<polygon points="741,427 790,427 796,456 742,456" fill="#e1f0a2"/>
<polygon points="820,427 858,427 880,456 838,456" fill="#e1f0a2"/>
<polygon points="866,432 893,414 900,456 884,456" fill="#2a78cc" opacity="0.85"/>
</g>
<rect x="500" y="243.5" width="431" height="212.5" fill="none" stroke="#2f3a36" stroke-width="2"/>
<!-- scale bar -->
<rect x="524.5" y="353.8" width="124" height="3.6" fill="#1e3a30"/>
<text id="t5um" x="541.0" y="393.5" font-size="33" fill="#1c2e28" textLength="79.0" lengthAdjust="spacing" stroke="#1c2e28" stroke-width="0.35">5 μm</text>


<!-- axes -->
<g stroke="#3f3f3f" stroke-width="2.4" fill="none">
<rect x="142.4" y="27.6" width="823.5" height="464.9"/>
</g>
<g stroke="#3f3f3f" stroke-width="2.2"><line x1="131" y1="487.8" x2="142.4" y2="487.8"/><line x1="131" y1="257.7" x2="142.4" y2="257.7"/><line x1="131" y1="27.6" x2="142.4" y2="27.6"/><line x1="135.5" y1="372.8" x2="142.4" y2="372.8"/><line x1="135.5" y1="142.6" x2="142.4" y2="142.6"/><line x1="142.4" y1="492.5" x2="142.4" y2="504" /><line x1="307.1" y1="492.5" x2="307.1" y2="504" /><line x1="471.8" y1="492.5" x2="471.8" y2="504" /><line x1="636.5" y1="492.5" x2="636.5" y2="504" /><line x1="801.2" y1="492.5" x2="801.2" y2="504" /><line x1="965.9" y1="492.5" x2="965.9" y2="504" /><line x1="224.8" y1="492.5" x2="224.8" y2="499.5" /><line x1="389.4" y1="492.5" x2="389.4" y2="499.5" /><line x1="554.1" y1="492.5" x2="554.1" y2="499.5" /><line x1="718.8" y1="492.5" x2="718.8" y2="499.5" /><line x1="883.5" y1="492.5" x2="883.5" y2="499.5" /></g>
<g font-size="31" fill="#3b3b3b" stroke="#3b3b3b" stroke-width="0.35">
<text x="126" y="39" text-anchor="end">10</text>
<text x="126" y="268.5" text-anchor="end">5</text>
<text x="126" y="498.5" text-anchor="end">0</text>
<text x="142.4" y="532" text-anchor="middle">0</text><text x="307.1" y="532" text-anchor="middle">2</text><text x="471.8" y="532" text-anchor="middle">4</text><text x="636.5" y="532" text-anchor="middle">6</text><text x="801.2" y="532" text-anchor="middle">8</text><text x="965.9" y="532" text-anchor="middle">10</text>
</g>
<text id="xlab_a" x="404.0" y="575.3" font-size="36.5" fill="#3b3b3b" textLength="297.7" lengthAdjust="spacing" stroke="#3b3b3b" stroke-width="0.35">Temperature, <tspan font-style="italic">T</tspan> (K)</text>
<text id="ylab_a" transform="translate(90.5,416.0) rotate(-90)" x="-2.0" y="0" font-size="35" fill="#3b3b3b" textLength="321.6" lengthAdjust="spacing" stroke="#3b3b3b" stroke-width="0.35">Resistance, <tspan font-style="italic">R</tspan><tspan font-style="italic" font-size="25" dy="7">xx</tspan><tspan dy="-7"> (kΩ)</tspan></text>

<!-- legend -->
<line x1="156" y1="54.8" x2="209" y2="54.8" stroke="#2aa2dc" stroke-width="2.2"/>
<circle cx="182.3" cy="54.8" r="3.3" fill="#2aa2dc"/>
<line x1="156" y1="98" x2="209" y2="98" stroke="#8446ab" stroke-width="2.2"/>
<circle cx="182.3" cy="98" r="3.3" fill="#8446ab"/>
<g>
<text id="leg1" x="220.2" y="67.3" font-size="33" fill="#3b3b3b" textLength="213.5" lengthAdjust="spacing" stroke="#3b3b3b" stroke-width="0.35">M1, <tspan font-family="'Liberation Serif', 'Times New Roman', serif" font-style="italic">θ</tspan> = 1.16°</text>
<text id="leg2" x="220.0" y="110.7" font-size="33" fill="#3b3b3b" textLength="215.5" lengthAdjust="spacing" stroke="#3b3b3b" stroke-width="0.35">M2, <tspan font-family="'Liberation Serif', 'Times New Roman', serif" font-style="italic">θ</tspan> = 1.05°</text>
</g>

<!-- curves -->
<polyline points="143.0,486.5 150.0,486.5 158.5,486.0 164.3,476.8 171.5,457.0 177.0,442.5 186.0,417.0 195.0,399.0 202.0,381.0 209.4,368.0 215.0,361.0 220.0,350.0 227.8,338.5 234.7,320.5 242.0,317.0 251.0,305.0 261.8,292.5 274.4,283.6 282.8,274.0 298.0,264.0 315.6,254.2 332.0,244.0 348.5,234.6 371.4,224.7 397.7,211.6 430.5,198.5 463.3,190.3 496.0,184.3 529.0,178.3 545.0,176.5 553.0,175.6 566.0,175.0 579.4,172.4 595.0,169.8 608.3,170.8 616.0,167.7 629.3,166.4 638.5,165.9 659.5,165.0 664.8,163.2 675.3,161.9 685.8,161.9 697.6,160.6 710.7,158.5 722.6,159.3 735.7,159.0 751.5,155.1 768.5,154.6 785.6,154.6 802.7,150.6 823.7,149.3 843.4,146.7 863.1,145.4 886.7,142.0 910.4,138.8 936.6,137.5 961.6,133.0 966.0,132.0" fill="none" stroke="#2aa2dc" stroke-width="2.2" stroke-linejoin="round"/>
<g fill="#2aa2dc"><circle cx="143.0" cy="486.5" r="3.3"/><circle cx="146.2" cy="486.5" r="3.3"/><circle cx="149.4" cy="486.5" r="3.3"/><circle cx="152.6" cy="486.3" r="3.3"/><circle cx="155.8" cy="486.2" r="3.3"/><circle cx="158.8" cy="485.6" r="3.3"/><circle cx="160.5" cy="482.9" r="3.3"/><circle cx="162.2" cy="480.2" r="3.3"/><circle cx="163.9" cy="477.5" r="3.3"/><circle cx="165.1" cy="474.5" r="3.3"/><circle cx="166.2" cy="471.5" r="3.3"/><circle cx="167.3" cy="468.5" r="3.3"/><circle cx="168.4" cy="465.5" r="3.3"/><circle cx="169.5" cy="462.5" r="3.3"/><circle cx="170.6" cy="459.5" r="3.3"/><circle cx="171.7" cy="456.5" r="3.3"/><circle cx="172.8" cy="453.5" r="3.3"/><circle cx="174.0" cy="450.5" r="3.3"/><circle cx="175.1" cy="447.5" r="3.3"/><circle cx="176.2" cy="444.5" r="3.3"/><circle cx="177.3" cy="441.5" r="3.3"/><circle cx="178.4" cy="438.5" r="3.3"/><circle cx="179.5" cy="435.5" r="3.3"/><circle cx="180.5" cy="432.5" r="3.3"/><circle cx="181.6" cy="429.5" r="3.3"/><circle cx="182.7" cy="426.4" r="3.3"/><circle cx="183.7" cy="423.4" r="3.3"/><circle cx="184.8" cy="420.4" r="3.3"/><circle cx="185.9" cy="417.4" r="3.3"/><circle cx="187.2" cy="414.5" r="3.3"/><circle cx="188.7" cy="411.6" r="3.3"/><circle cx="190.1" cy="408.8" r="3.3"/><circle cx="191.5" cy="405.9" r="3.3"/><circle cx="193.0" cy="403.1" r="3.3"/><circle cx="194.4" cy="400.2" r="3.3"/><circle cx="195.7" cy="397.3" r="3.3"/><circle cx="196.8" cy="394.3" r="3.3"/><circle cx="198.0" cy="391.3" r="3.3"/><circle cx="199.2" cy="388.3" r="3.3"/><circle cx="200.3" cy="385.3" r="3.3"/><circle cx="201.5" cy="382.3" r="3.3"/><circle cx="202.9" cy="379.5" r="3.3"/><circle cx="204.5" cy="376.7" r="3.3"/><circle cx="206.0" cy="373.9" r="3.3"/><circle cx="207.6" cy="371.1" r="3.3"/><circle cx="209.2" cy="368.4" r="3.3"/><circle cx="211.1" cy="365.8" r="3.3"/><circle cx="213.1" cy="363.3" r="3.3"/><circle cx="215.1" cy="360.8" r="3.3"/><circle cx="216.4" cy="357.9" r="3.3"/><circle cx="217.7" cy="355.0" r="3.3"/><circle cx="219.1" cy="352.1" r="3.3"/><circle cx="220.5" cy="349.2" r="3.3"/><circle cx="222.3" cy="346.6" r="3.3"/><circle cx="224.1" cy="343.9" r="3.3"/><circle cx="225.9" cy="341.3" r="3.3"/><circle cx="227.7" cy="338.6" r="3.3"/><circle cx="228.9" cy="335.7" r="3.3"/><circle cx="230.0" cy="332.7" r="3.3"/><circle cx="231.2" cy="329.7" r="3.3"/><circle cx="232.3" cy="326.7" r="3.3"/><circle cx="233.5" cy="323.7" r="3.3"/><circle cx="234.6" cy="320.7" r="3.3"/><circle cx="237.4" cy="319.2" r="3.3"/><circle cx="240.3" cy="317.8" r="3.3"/><circle cx="242.8" cy="316.0" r="3.3"/><circle cx="244.7" cy="313.4" r="3.3"/><circle cx="246.6" cy="310.9" r="3.3"/><circle cx="248.5" cy="308.3" r="3.3"/><circle cx="250.4" cy="305.7" r="3.3"/><circle cx="252.5" cy="303.3" r="3.3"/><circle cx="254.6" cy="300.9" r="3.3"/><circle cx="256.7" cy="298.4" r="3.3"/><circle cx="258.8" cy="296.0" r="3.3"/><circle cx="260.9" cy="293.6" r="3.3"/><circle cx="263.2" cy="291.5" r="3.3"/><circle cx="265.9" cy="289.6" r="3.3"/><circle cx="268.5" cy="287.8" r="3.3"/><circle cx="271.1" cy="285.9" r="3.3"/><circle cx="273.7" cy="284.1" r="3.3"/><circle cx="275.9" cy="281.8" r="3.3"/><circle cx="278.0" cy="279.4" r="3.3"/><circle cx="280.2" cy="277.0" r="3.3"/><circle cx="282.3" cy="274.6" r="3.3"/><circle cx="284.8" cy="272.7" r="3.3"/><circle cx="287.5" cy="270.9" r="3.3"/><circle cx="290.1" cy="269.2" r="3.3"/><circle cx="292.8" cy="267.4" r="3.3"/><circle cx="295.5" cy="265.7" r="3.3"/><circle cx="298.2" cy="263.9" r="3.3"/><circle cx="301.0" cy="262.4" r="3.3"/><circle cx="303.8" cy="260.8" r="3.3"/><circle cx="306.5" cy="259.2" r="3.3"/><circle cx="309.3" cy="257.7" r="3.3"/><circle cx="312.1" cy="256.1" r="3.3"/><circle cx="314.9" cy="254.6" r="3.3"/><circle cx="317.7" cy="252.9" r="3.3"/><circle cx="320.4" cy="251.2" r="3.3"/><circle cx="323.1" cy="249.5" r="3.3"/><circle cx="325.8" cy="247.8" r="3.3"/><circle cx="328.5" cy="246.2" r="3.3"/><circle cx="331.3" cy="244.5" r="3.3"/><circle cx="334.0" cy="242.8" r="3.3"/><circle cx="336.8" cy="241.3" r="3.3"/><circle cx="339.6" cy="239.7" r="3.3"/><circle cx="342.4" cy="238.1" r="3.3"/><circle cx="345.1" cy="236.5" r="3.3"/><circle cx="347.9" cy="234.9" r="3.3"/><circle cx="350.8" cy="233.6" r="3.3"/><circle cx="353.8" cy="232.3" r="3.3"/><circle cx="356.7" cy="231.1" r="3.3"/><circle cx="359.6" cy="229.8" r="3.3"/><circle cx="362.6" cy="228.5" r="3.3"/><circle cx="365.5" cy="227.2" r="3.3"/><circle cx="368.5" cy="226.0" r="3.3"/><circle cx="371.4" cy="224.7" r="3.3"/><circle cx="374.3" cy="223.3" r="3.3"/><circle cx="377.1" cy="221.9" r="3.3"/><circle cx="380.0" cy="220.4" r="3.3"/><circle cx="382.8" cy="219.0" r="3.3"/><circle cx="385.7" cy="217.6" r="3.3"/><circle cx="388.6" cy="216.1" r="3.3"/><circle cx="391.4" cy="214.7" r="3.3"/><circle cx="394.3" cy="213.3" r="3.3"/><circle cx="397.2" cy="211.9" r="3.3"/><circle cx="400.1" cy="210.6" r="3.3"/><circle cx="403.1" cy="209.4" r="3.3"/><circle cx="406.1" cy="208.3" r="3.3"/><circle cx="409.0" cy="207.1" r="3.3"/><circle cx="412.0" cy="205.9" r="3.3"/><circle cx="415.0" cy="204.7" r="3.3"/><circle cx="417.9" cy="203.5" r="3.3"/><circle cx="420.9" cy="202.3" r="3.3"/><circle cx="423.9" cy="201.1" r="3.3"/><circle cx="426.9" cy="200.0" r="3.3"/><circle cx="429.8" cy="198.8" r="3.3"/><circle cx="432.9" cy="197.9" r="3.3"/><circle cx="436.0" cy="197.1" r="3.3"/><circle cx="439.1" cy="196.3" r="3.3"/><circle cx="442.2" cy="195.6" r="3.3"/><circle cx="445.3" cy="194.8" r="3.3"/><circle cx="448.4" cy="194.0" r="3.3"/><circle cx="451.5" cy="193.2" r="3.3"/><circle cx="454.6" cy="192.5" r="3.3"/><circle cx="457.7" cy="191.7" r="3.3"/><circle cx="460.9" cy="190.9" r="3.3"/><circle cx="464.0" cy="190.2" r="3.3"/><circle cx="467.1" cy="189.6" r="3.3"/><circle cx="470.3" cy="189.0" r="3.3"/><circle cx="473.4" cy="188.4" r="3.3"/><circle cx="476.6" cy="187.9" r="3.3"/><circle cx="479.7" cy="187.3" r="3.3"/><circle cx="482.8" cy="186.7" r="3.3"/><circle cx="486.0" cy="186.1" r="3.3"/><circle cx="489.1" cy="185.6" r="3.3"/><circle cx="492.3" cy="185.0" r="3.3"/><circle cx="495.4" cy="184.4" r="3.3"/><circle cx="498.6" cy="183.8" r="3.3"/><circle cx="501.7" cy="183.3" r="3.3"/><circle cx="504.9" cy="182.7" r="3.3"/><circle cx="508.0" cy="182.1" r="3.3"/><circle cx="511.2" cy="181.5" r="3.3"/><circle cx="514.3" cy="181.0" r="3.3"/><circle cx="517.5" cy="180.4" r="3.3"/><circle cx="520.6" cy="179.8" r="3.3"/><circle cx="523.8" cy="179.2" r="3.3"/><circle cx="526.9" cy="178.7" r="3.3"/><circle cx="530.1" cy="178.2" r="3.3"/><circle cx="533.3" cy="177.8" r="3.3"/><circle cx="536.4" cy="177.5" r="3.3"/><circle cx="539.6" cy="177.1" r="3.3"/><circle cx="542.8" cy="176.7" r="3.3"/><circle cx="553.0" cy="175.6" r="3.3"/><circle cx="566.0" cy="175.0" r="3.3"/><circle cx="579.4" cy="172.4" r="3.3"/><circle cx="595.0" cy="169.8" r="3.3"/><circle cx="608.3" cy="170.8" r="3.3"/><circle cx="616.0" cy="167.7" r="3.3"/><circle cx="629.3" cy="166.4" r="3.3"/><circle cx="638.5" cy="165.9" r="3.3"/><circle cx="659.5" cy="165.0" r="3.3"/><circle cx="664.8" cy="163.2" r="3.3"/><circle cx="675.3" cy="161.9" r="3.3"/><circle cx="685.8" cy="161.9" r="3.3"/><circle cx="697.6" cy="160.6" r="3.3"/><circle cx="710.7" cy="158.5" r="3.3"/><circle cx="722.6" cy="159.3" r="3.3"/><circle cx="735.7" cy="159.0" r="3.3"/><circle cx="751.5" cy="155.1" r="3.3"/><circle cx="768.5" cy="154.6" r="3.3"/><circle cx="785.6" cy="154.6" r="3.3"/><circle cx="802.7" cy="150.6" r="3.3"/><circle cx="823.7" cy="149.3" r="3.3"/><circle cx="843.4" cy="146.7" r="3.3"/><circle cx="863.1" cy="145.4" r="3.3"/><circle cx="886.7" cy="142.0" r="3.3"/><circle cx="910.4" cy="138.8" r="3.3"/><circle cx="936.6" cy="137.5" r="3.3"/><circle cx="961.6" cy="133.0" r="3.3"/></g>
<polyline points="143.0,487.5 170.0,487.5 200.0,487.0 215.0,486.0 227.8,479.5 237.4,466.7 243.8,453.8 248.7,441.0 253.5,426.6 256.7,415.4 267.9,381.7 285.5,335.3 293.5,320.8 309.0,298.0 325.5,270.7 345.2,244.4 371.4,221.4 394.4,201.7 414.0,187.0 433.8,175.5 460.0,160.7 486.3,147.6 512.6,137.7 538.8,130.0 553.0,127.8 566.3,124.4 574.0,122.5 584.7,119.9 595.0,120.4 607.0,115.7 620.0,112.5 636.0,111.7 653.0,108.9 672.6,108.9 695.0,105.2 723.9,99.9 754.0,97.6 790.9,97.3 830.0,92.3 876.2,87.6 930.0,85.0 965.5,83.1" fill="none" stroke="#8446ab" stroke-width="2.2" stroke-linejoin="round"/>
<g fill="#8446ab"><circle cx="143.0" cy="487.5" r="3.3"/><circle cx="146.2" cy="487.5" r="3.3"/><circle cx="149.4" cy="487.5" r="3.3"/><circle cx="152.6" cy="487.5" r="3.3"/><circle cx="155.8" cy="487.5" r="3.3"/><circle cx="159.0" cy="487.5" r="3.3"/><circle cx="162.2" cy="487.5" r="3.3"/><circle cx="165.4" cy="487.5" r="3.3"/><circle cx="168.6" cy="487.5" r="3.3"/><circle cx="171.8" cy="487.5" r="3.3"/><circle cx="175.0" cy="487.4" r="3.3"/><circle cx="178.2" cy="487.4" r="3.3"/><circle cx="181.4" cy="487.3" r="3.3"/><circle cx="184.6" cy="487.3" r="3.3"/><circle cx="187.8" cy="487.2" r="3.3"/><circle cx="191.0" cy="487.2" r="3.3"/><circle cx="194.2" cy="487.1" r="3.3"/><circle cx="197.4" cy="487.0" r="3.3"/><circle cx="200.6" cy="487.0" r="3.3"/><circle cx="203.8" cy="486.7" r="3.3"/><circle cx="207.0" cy="486.5" r="3.3"/><circle cx="210.2" cy="486.3" r="3.3"/><circle cx="213.4" cy="486.1" r="3.3"/><circle cx="216.4" cy="485.3" r="3.3"/><circle cx="219.2" cy="483.8" r="3.3"/><circle cx="222.1" cy="482.4" r="3.3"/><circle cx="225.0" cy="480.9" r="3.3"/><circle cx="227.8" cy="479.5" r="3.3"/><circle cx="229.7" cy="476.9" r="3.3"/><circle cx="231.6" cy="474.4" r="3.3"/><circle cx="233.6" cy="471.8" r="3.3"/><circle cx="235.5" cy="469.3" r="3.3"/><circle cx="237.4" cy="466.7" r="3.3"/><circle cx="238.8" cy="463.8" r="3.3"/><circle cx="240.2" cy="461.0" r="3.3"/><circle cx="241.7" cy="458.1" r="3.3"/><circle cx="243.1" cy="455.2" r="3.3"/><circle cx="244.4" cy="452.3" r="3.3"/><circle cx="245.5" cy="449.3" r="3.3"/><circle cx="246.7" cy="446.3" r="3.3"/><circle cx="247.8" cy="443.3" r="3.3"/><circle cx="248.9" cy="440.3" r="3.3"/><circle cx="249.9" cy="437.3" r="3.3"/><circle cx="250.9" cy="434.3" r="3.3"/><circle cx="252.0" cy="431.2" r="3.3"/><circle cx="253.0" cy="428.2" r="3.3"/><circle cx="253.9" cy="425.1" r="3.3"/><circle cx="254.8" cy="422.1" r="3.3"/><circle cx="292.0" cy="323.4" r="3.3"/><circle cx="293.6" cy="320.7" r="3.3"/><circle cx="295.4" cy="318.0" r="3.3"/><circle cx="297.2" cy="315.4" r="3.3"/><circle cx="299.0" cy="312.7" r="3.3"/><circle cx="300.8" cy="310.1" r="3.3"/><circle cx="302.6" cy="307.4" r="3.3"/><circle cx="304.4" cy="304.8" r="3.3"/><circle cx="306.2" cy="302.1" r="3.3"/><circle cx="308.0" cy="299.5" r="3.3"/><circle cx="309.7" cy="296.8" r="3.3"/><circle cx="311.4" cy="294.1" r="3.3"/><circle cx="313.0" cy="291.3" r="3.3"/><circle cx="314.7" cy="288.6" r="3.3"/><circle cx="316.3" cy="285.8" r="3.3"/><circle cx="318.0" cy="283.1" r="3.3"/><circle cx="319.7" cy="280.4" r="3.3"/><circle cx="321.3" cy="277.6" r="3.3"/><circle cx="323.0" cy="274.9" r="3.3"/><circle cx="324.6" cy="272.1" r="3.3"/><circle cx="326.4" cy="269.5" r="3.3"/><circle cx="328.3" cy="266.9" r="3.3"/><circle cx="330.2" cy="264.4" r="3.3"/><circle cx="332.2" cy="261.8" r="3.3"/><circle cx="334.1" cy="259.2" r="3.3"/><circle cx="336.0" cy="256.7" r="3.3"/><circle cx="337.9" cy="254.1" r="3.3"/><circle cx="339.8" cy="251.6" r="3.3"/><circle cx="341.8" cy="249.0" r="3.3"/><circle cx="343.7" cy="246.4" r="3.3"/><circle cx="345.7" cy="244.0" r="3.3"/><circle cx="348.1" cy="241.9" r="3.3"/><circle cx="350.5" cy="239.8" r="3.3"/><circle cx="352.9" cy="237.6" r="3.3"/><circle cx="355.3" cy="235.5" r="3.3"/><circle cx="357.7" cy="233.4" r="3.3"/><circle cx="360.1" cy="231.3" r="3.3"/><circle cx="362.5" cy="229.2" r="3.3"/><circle cx="364.9" cy="227.1" r="3.3"/><circle cx="367.3" cy="225.0" r="3.3"/><circle cx="369.7" cy="222.9" r="3.3"/><circle cx="372.1" cy="220.8" r="3.3"/><circle cx="374.6" cy="218.7" r="3.3"/><circle cx="377.0" cy="216.6" r="3.3"/><circle cx="379.4" cy="214.5" r="3.3"/><circle cx="381.9" cy="212.4" r="3.3"/><circle cx="384.3" cy="210.4" r="3.3"/><circle cx="386.7" cy="208.3" r="3.3"/><circle cx="389.2" cy="206.2" r="3.3"/><circle cx="391.6" cy="204.1" r="3.3"/><circle cx="394.0" cy="202.0" r="3.3"/><circle cx="396.6" cy="200.1" r="3.3"/><circle cx="399.1" cy="198.2" r="3.3"/><circle cx="401.7" cy="196.2" r="3.3"/><circle cx="404.2" cy="194.3" r="3.3"/><circle cx="406.8" cy="192.4" r="3.3"/><circle cx="409.4" cy="190.5" r="3.3"/><circle cx="411.9" cy="188.6" r="3.3"/><circle cx="414.5" cy="186.7" r="3.3"/><circle cx="417.3" cy="185.1" r="3.3"/><circle cx="420.1" cy="183.5" r="3.3"/><circle cx="422.8" cy="181.9" r="3.3"/><circle cx="425.6" cy="180.3" r="3.3"/><circle cx="428.4" cy="178.7" r="3.3"/><circle cx="431.1" cy="177.1" r="3.3"/><circle cx="433.9" cy="175.4" r="3.3"/><circle cx="436.7" cy="173.9" r="3.3"/><circle cx="439.5" cy="172.3" r="3.3"/><circle cx="442.2" cy="170.7" r="3.3"/><circle cx="445.0" cy="169.2" r="3.3"/><circle cx="447.8" cy="167.6" r="3.3"/><circle cx="450.6" cy="166.0" r="3.3"/><circle cx="453.4" cy="164.4" r="3.3"/><circle cx="456.2" cy="162.9" r="3.3"/><circle cx="459.0" cy="161.3" r="3.3"/><circle cx="461.8" cy="159.8" r="3.3"/><circle cx="464.7" cy="158.4" r="3.3"/><circle cx="467.5" cy="157.0" r="3.3"/><circle cx="470.4" cy="155.5" r="3.3"/><circle cx="473.3" cy="154.1" r="3.3"/><circle cx="476.1" cy="152.7" r="3.3"/><circle cx="479.0" cy="151.2" r="3.3"/><circle cx="481.9" cy="149.8" r="3.3"/><circle cx="484.7" cy="148.4" r="3.3"/><circle cx="487.6" cy="147.1" r="3.3"/><circle cx="490.6" cy="146.0" r="3.3"/><circle cx="493.6" cy="144.8" r="3.3"/><circle cx="496.6" cy="143.7" r="3.3"/><circle cx="499.6" cy="142.6" r="3.3"/><circle cx="502.6" cy="141.5" r="3.3"/><circle cx="505.6" cy="140.3" r="3.3"/><circle cx="508.6" cy="139.2" r="3.3"/><circle cx="511.6" cy="138.1" r="3.3"/><circle cx="514.6" cy="137.1" r="3.3"/><circle cx="517.7" cy="136.2" r="3.3"/><circle cx="520.8" cy="135.3" r="3.3"/><circle cx="523.9" cy="134.4" r="3.3"/><circle cx="526.9" cy="133.5" r="3.3"/><circle cx="530.0" cy="132.6" r="3.3"/><circle cx="533.1" cy="131.7" r="3.3"/><circle cx="536.1" cy="130.8" r="3.3"/><circle cx="553.0" cy="127.8" r="3.3"/><circle cx="566.3" cy="124.4" r="3.3"/><circle cx="574.0" cy="122.5" r="3.3"/><circle cx="584.7" cy="119.9" r="3.3"/><circle cx="595.0" cy="120.4" r="3.3"/><circle cx="607.0" cy="115.7" r="3.3"/><circle cx="620.0" cy="112.5" r="3.3"/><circle cx="636.0" cy="111.7" r="3.3"/><circle cx="653.0" cy="108.9" r="3.3"/><circle cx="672.6" cy="108.9" r="3.3"/><circle cx="695.0" cy="105.2" r="3.3"/><circle cx="723.9" cy="99.9" r="3.3"/><circle cx="754.0" cy="97.6" r="3.3"/><circle cx="790.9" cy="97.3" r="3.3"/><circle cx="830.0" cy="92.3" r="3.3"/><circle cx="876.2" cy="87.6" r="3.3"/><circle cx="930.0" cy="85.0" r="3.3"/><circle cx="965.5" cy="83.1" r="3.3"/><circle cx="267.9" cy="381.7" r="3.3"/><circle cx="285.5" cy="335.3" r="3.3"/></g>
</g>

<!-- ============ panel (b) ============ -->
<rect x="1157.8" y="78" width="539.7" height="434.5" fill="none" stroke="#555" stroke-width="1.8"/>
<g stroke="#555" stroke-width="1.6"><line x1="1152.5" y1="497.4" x2="1158" y2="497.4"/><line x1="1152.5" y1="423.0" x2="1158" y2="423.0"/><line x1="1152.5" y1="348.6" x2="1158" y2="348.6"/><line x1="1152.5" y1="274.1" x2="1158" y2="274.1"/><line x1="1152.5" y1="199.7" x2="1158" y2="199.7"/><line x1="1152.5" y1="125.3" x2="1158" y2="125.3"/><line x1="1155" y1="460.2" x2="1158" y2="460.2"/><line x1="1155" y1="385.8" x2="1158" y2="385.8"/><line x1="1155" y1="311.3" x2="1158" y2="311.3"/><line x1="1155" y1="236.9" x2="1158" y2="236.9"/><line x1="1155" y1="162.5" x2="1158" y2="162.5"/><line x1="1155" y1="88.1" x2="1158" y2="88.1"/><line x1="1270.2" y1="512" x2="1270.2" y2="516.5"/><line x1="1404.7" y1="512" x2="1404.7" y2="516.5"/><line x1="1539.2" y1="512" x2="1539.2" y2="516.5"/><line x1="1673.7" y1="512" x2="1673.7" y2="516.5"/><line x1="1202.9" y1="512" x2="1202.9" y2="514.5"/><line x1="1337.4" y1="512" x2="1337.4" y2="514.5"/><line x1="1471.9" y1="512" x2="1471.9" y2="514.5"/><line x1="1606.4" y1="512" x2="1606.4" y2="514.5"/></g>
<g font-size="26" fill="#3b3b3b" stroke="#3b3b3b" stroke-width="0.35"><text x="1149.5" y="506.0" text-anchor="end">0.1</text><text x="1149.5" y="431.6" text-anchor="end">0.2</text><text x="1149.5" y="357.2" text-anchor="end">0.3</text><text x="1149.5" y="282.7" text-anchor="end">0.4</text><text x="1149.5" y="208.3" text-anchor="end">0.5</text><text x="1149.5" y="133.9" text-anchor="end">0.6</text><text x="1235.7" y="539.7">−1.8</text><text x="1370.1" y="539.7">−1.6</text><text x="1504.6" y="539.7">−1.4</text><text x="1639.1" y="539.7">−1.2</text></g>
<text id="xlab_b" x="1249.5" y="576.4" font-size="25" fill="#3b3b3b" textLength="334.7" lengthAdjust="spacing" stroke="#3b3b3b" stroke-width="0.35">Carrier density, <tspan font-style="italic">n</tspan> (10<tspan font-size="17" dy="-10">12</tspan><tspan dy="10"> cm</tspan><tspan font-size="17" dy="-10">−2</tspan><tspan dy="10">)</tspan></text>
<text id="ylab_b" transform="translate(1092.0,415.0) rotate(-90)" x="0.0" y="0" font-size="25" fill="#3b3b3b" textLength="214.0" lengthAdjust="spacing" stroke="#3b3b3b" stroke-width="0.35">Temperature, <tspan font-style="italic">T</tspan> (K)</text>

<!-- colorbar -->
<rect x="1427" y="48" width="270" height="17.5" fill="url(#cbar)" stroke="#6a3a30" stroke-width="1.4"/>
<line x1="1562" y1="44" x2="1562" y2="65.5" stroke="#6a3030" stroke-width="1.2"/>
<g font-size="23.5" fill="#3b3b3b" text-anchor="middle" stroke="#3b3b3b" stroke-width="0.35">
<text x="1427" y="43">8</text><text x="1561.5" y="43">4</text><text x="1695" y="43">0</text>
</g>
<text id="cb_lab" x="1325.2" y="62.0" font-size="24" fill="#3b3b3b" textLength="88.7" lengthAdjust="spacing" stroke="#3b3b3b" stroke-width="0.35"><tspan font-style="italic">R</tspan><tspan font-style="italic" font-size="17" dy="7">xx</tspan><tspan dy="-7"> (kΩ)</tspan></text>

<!-- domes -->
<g fill="none" stroke="#e6ecf8" stroke-width="2.6" stroke-dasharray="11 8">
<path d="M1176.0,512.0C1177.6,506.1 1182.1,487.5 1185.6,476.8C1189.1,466.1 1193.3,457.1 1196.8,448.0C1200.3,438.9 1202.7,430.9 1206.4,422.4C1210.1,413.9 1214.9,404.3 1219.2,396.8C1223.5,389.3 1226.9,384.6 1232.0,377.6C1237.1,370.6 1242.9,361.0 1249.6,354.6C1256.3,348.2 1264.6,342.4 1272.0,339.0C1279.4,335.6 1286.5,333.3 1294.0,334.4C1301.5,335.5 1309.3,339.6 1316.8,345.5C1324.3,351.4 1332.8,361.4 1339.2,370.0C1345.6,378.6 1350.7,388.5 1355.2,396.8C1359.7,405.1 1362.3,411.8 1366.0,420.0C1369.7,428.2 1374.1,436.9 1377.6,445.8C1381.1,454.7 1384.0,463.6 1387.2,473.6C1390.4,483.6 1394.8,499.2 1396.8,505.6C1398.8,512.0 1398.6,510.9 1399.0,512.0"/>
<path d="M1494.0,512.0C1494.1,509.3 1494.2,504.4 1494.7,496.0C1495.2,487.6 1496.1,473.1 1496.7,461.5C1497.3,449.9 1498.0,437.6 1498.6,426.7C1499.2,415.8 1499.7,406.8 1500.5,396.0C1501.3,385.2 1502.4,371.3 1503.5,362.0C1504.6,352.7 1505.8,345.5 1507.0,340.0C1508.2,334.5 1509.5,330.5 1511.0,329.0C1512.5,327.5 1513.6,327.9 1516.0,331.0C1518.4,334.1 1521.8,340.4 1525.6,347.5C1529.4,354.6 1534.8,364.3 1539.0,373.6C1543.2,382.9 1546.8,393.4 1550.7,403.5C1554.6,413.6 1558.4,423.5 1562.3,434.4C1566.2,445.3 1570.5,458.1 1574.0,469.0C1577.5,479.9 1581.3,492.8 1583.6,500.0C1585.8,507.2 1586.8,510.0 1587.5,512.0"/>
</g>

<!-- labels in heatmap -->
<text id="M1b" x="1172.0" y="105.6" font-size="26" fill="#3e2a24" textLength="156.6" lengthAdjust="spacing" stroke="#3e2a24" stroke-width="0.35">M1, <tspan font-family="'Liberation Serif', 'Times New Roman', serif" font-style="italic">θ</tspan> = 1.16°</text>
<text id="Mott" x="1397.5" y="168.6" font-size="25" fill="#f6c21c" textLength="53.6" lengthAdjust="spacing" stroke="#f6c21c" stroke-width="0.35">Mott</text>
<text id="MetalL" x="1238.0" y="205.9" font-size="25" fill="#2e2838" textLength="64.3" lengthAdjust="spacing" stroke="#2e2838" stroke-width="0.35">Metal</text>
<text id="MetalR" x="1575.4" y="206.3" font-size="25" fill="#26325c" textLength="65.1" lengthAdjust="spacing" stroke="#26325c" stroke-width="0.35">Metal</text>
<text id="SupR" x="1435.3" y="318.5" font-size="23" fill="#3a3332" textLength="162.0" lengthAdjust="spacing" stroke="#3a3332" stroke-width="0.35">Superconductor</text>
<text id="SupL" x="1203.3" y="467.2" font-size="23" fill="#d6dcea" textLength="161.4" lengthAdjust="spacing" stroke="#d6dcea" stroke-width="0.35">Superconductor</text>
</g>
</svg>
</div>
</body></html>
